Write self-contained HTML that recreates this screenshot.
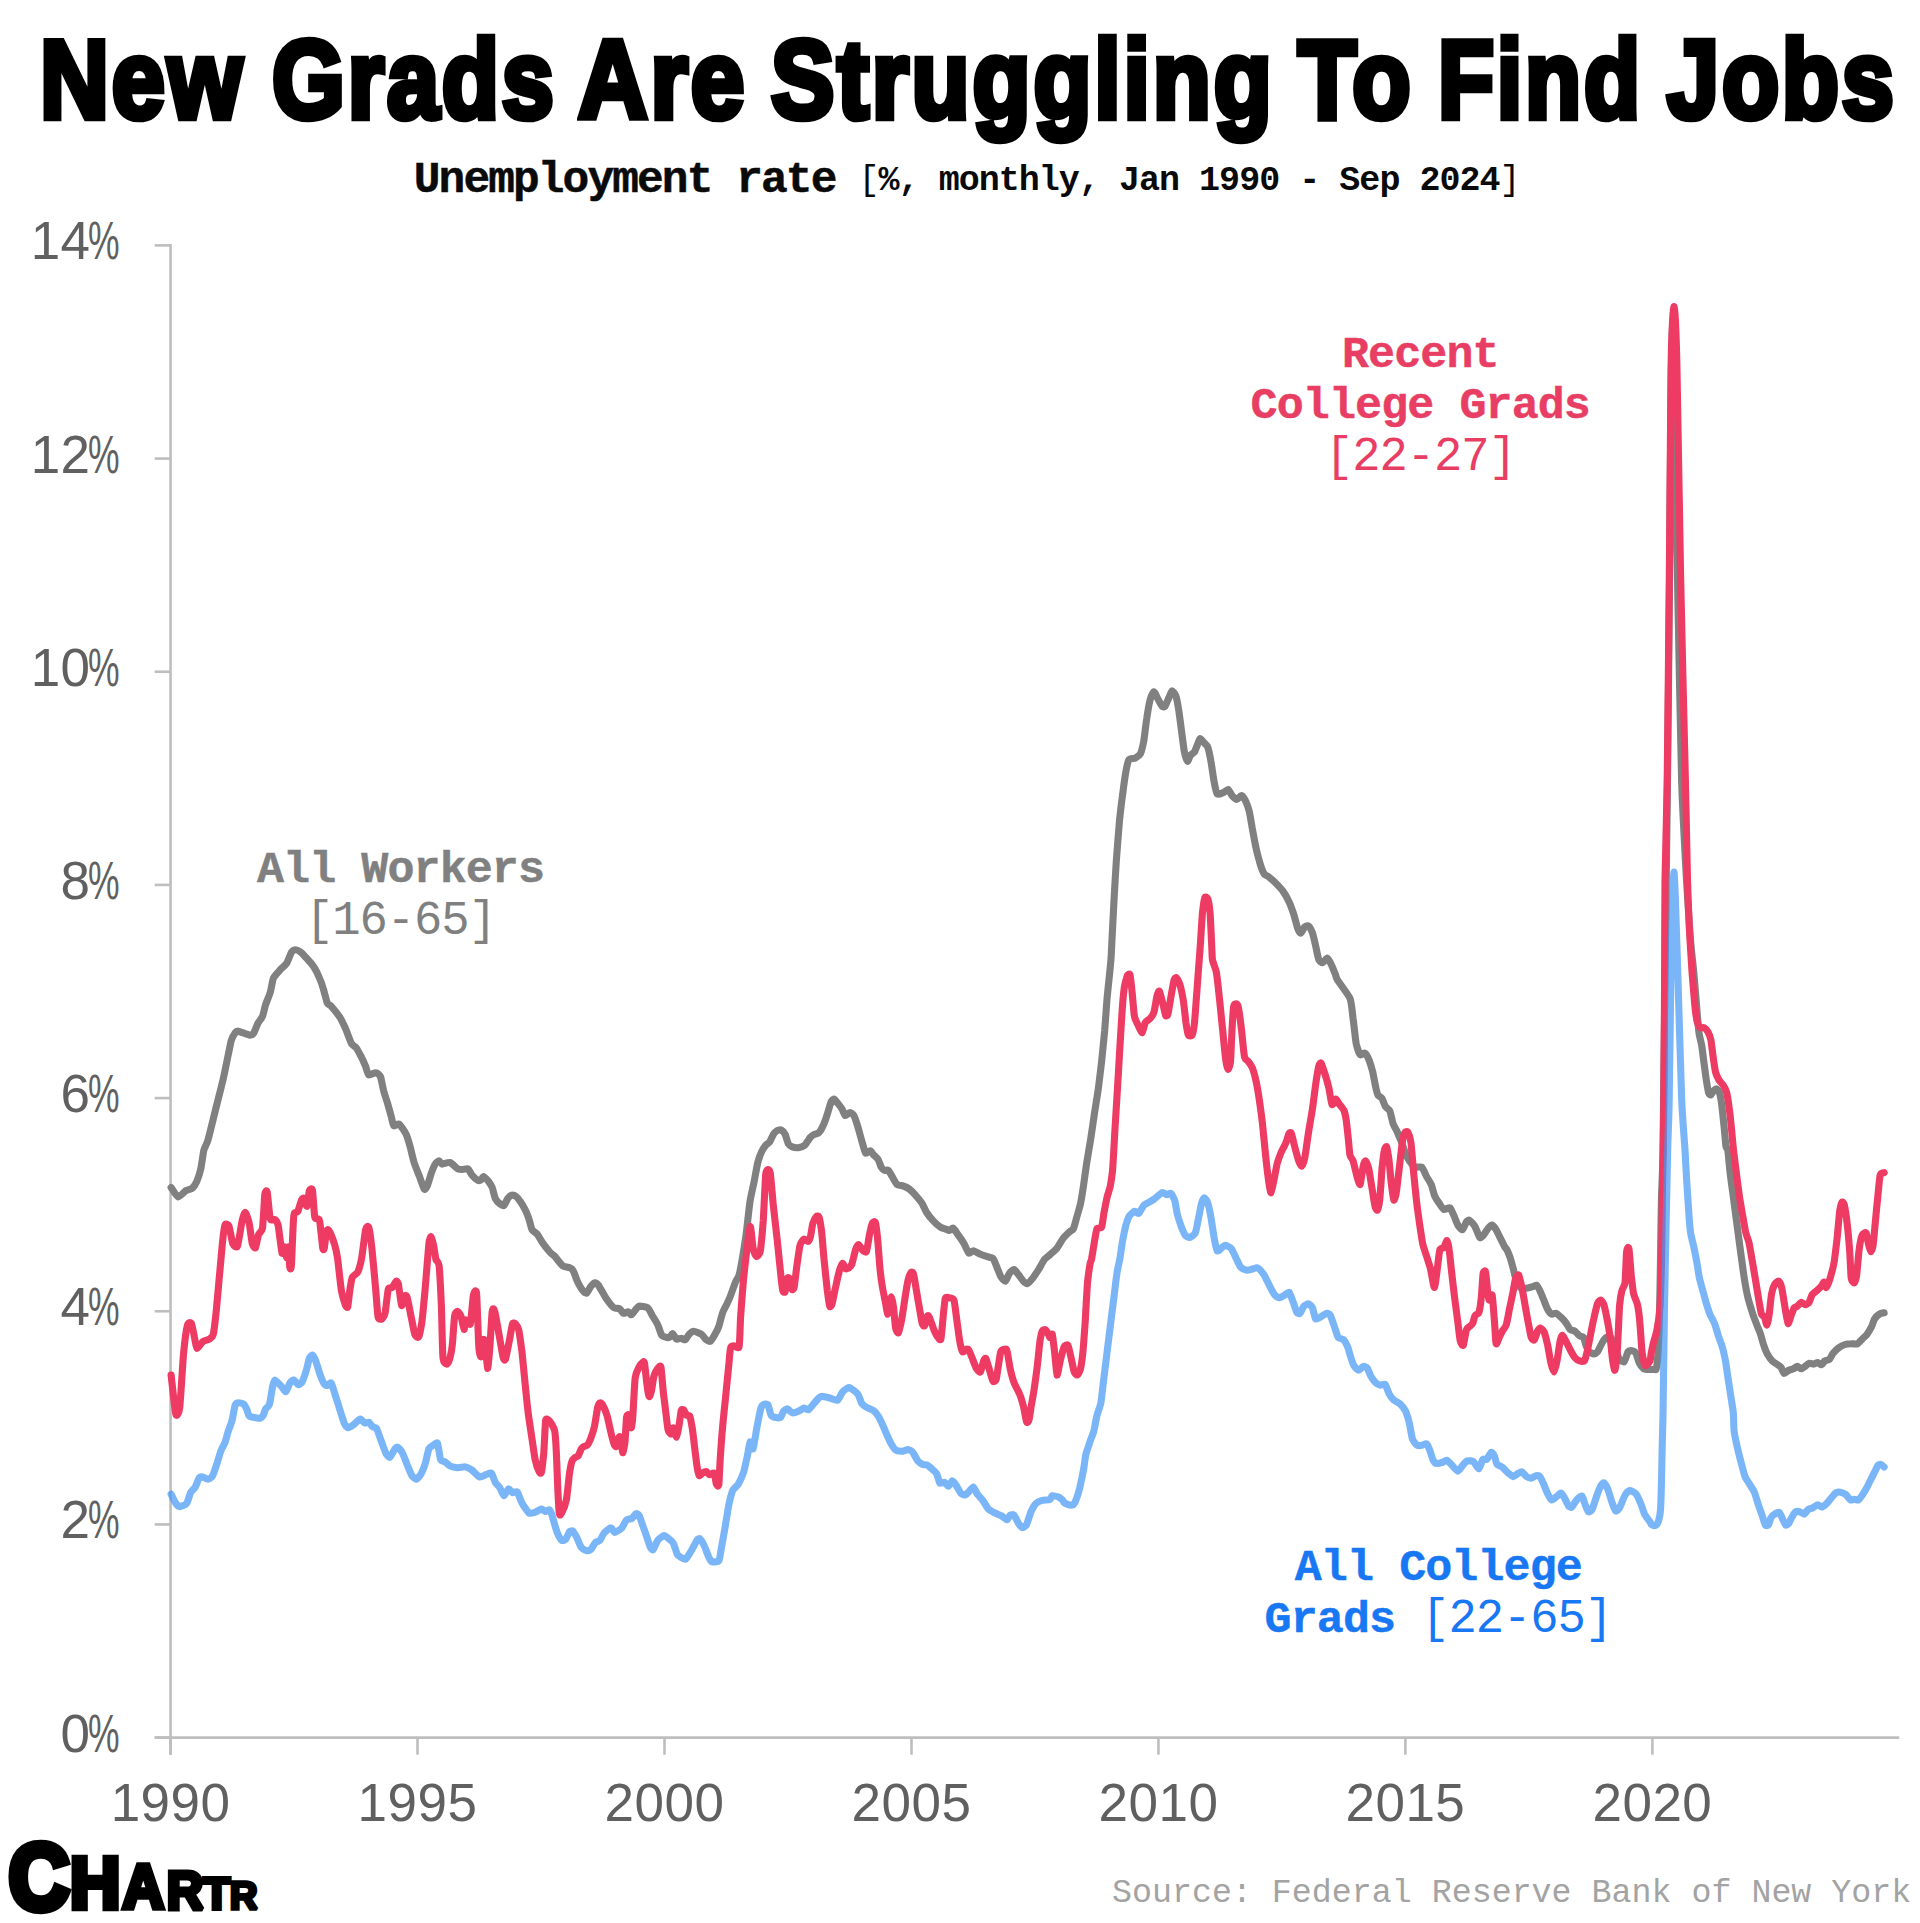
<!DOCTYPE html>
<html><head><meta charset="utf-8"><title>New Grads Are Struggling To Find Jobs</title>
<style>
html,body{margin:0;padding:0;background:#fff;}
body{width:1920px;height:1923px;position:relative;overflow:hidden;font-family:"Liberation Sans",sans-serif;}
.abs{position:absolute;white-space:pre;line-height:1;}
.tw{position:absolute;white-space:pre;line-height:1;font:bold 100px "Liberation Sans",sans-serif;color:#000;-webkit-text-stroke:6.0px #000;letter-spacing:3.0px;transform-origin:0 0;}
.mono{font-family:"Liberation Mono",monospace;}
.yl{position:absolute;left:0;width:90.6px;text-align:right;font:53px "Liberation Sans",sans-serif;line-height:53px;letter-spacing:0.5px;color:#606060;white-space:pre;}
.pc{position:absolute;left:88.2px;font:53px "Liberation Sans",sans-serif;line-height:53px;color:#606060;transform:scaleX(0.67);transform-origin:0 50%;}
.xl{position:absolute;top:1775.5px;width:200px;text-align:center;font:53px "Liberation Sans",sans-serif;line-height:53px;letter-spacing:0.5px;color:#606060;}
.lab{position:absolute;text-align:center;font:bold 45px "Liberation Mono",monospace;letter-spacing:-0.9px;line-height:50.8px;white-space:pre;}
.lab{-webkit-text-stroke:0.45px currentColor;}
.lab .lt{-webkit-text-stroke:0;font-weight:normal;font-size:47.2px;letter-spacing:-1.07px;}
svg{position:absolute;left:0;top:0;}
</style></head><body>
<h1 style="margin:0;font-size:0"><span class="tw" style="left:39.93px;top:14.67px;transform:scale(0.9538,1.1167)">New</span><span class="tw" style="left:271.56px;top:14.67px;transform:scale(0.9365,1.1167)">Grads</span><span class="tw" style="left:577.96px;top:14.67px;transform:scale(0.9626,1.1167)">Are</span><span class="tw" style="left:770.95px;top:14.67px;transform:scale(0.9504,1.1167)">Struggling</span><span class="tw" style="left:1298.16px;top:14.67px;transform:scale(0.9559,1.1167)">To</span><span class="tw" style="left:1438.33px;top:14.67px;transform:scale(0.9178,1.1167)">Find</span><span class="tw" style="left:1666.87px;top:14.67px;transform:scale(0.9362,1.1167)">Jobs</span></h1>
<div id="sub" class="abs mono" style="left:413.8px;top:158px;font-weight:bold;font-size:44.5px;letter-spacing:-1.9px;color:#0a0a0a;-webkit-text-stroke:0.5px #0a0a0a;">Unemployment rate</div>
<div id="sub2" class="abs mono" style="left:858.5px;top:164.3px;font-weight:bold;font-size:35px;letter-spacing:-0.97px;color:#0a0a0a;"><span style="font-weight:normal">[</span>%, monthly, Jan 1990 - Sep 2024<span style="font-weight:normal">]</span></div>
<svg width="1920" height="1923" viewBox="0 0 1920 1923">
<g stroke="#bebebe" stroke-width="2.6" fill="none">
<line x1="170.55" y1="244.10" x2="170.55" y2="1754.7"/>
<line x1="154.7" y1="1737.6" x2="1899.3" y2="1737.6"/>
<line x1="154.7" y1="1737.60" x2="171" y2="1737.60"/><line x1="154.7" y1="1524.43" x2="171" y2="1524.43"/><line x1="154.7" y1="1311.26" x2="171" y2="1311.26"/><line x1="154.7" y1="1098.08" x2="171" y2="1098.08"/><line x1="154.7" y1="884.91" x2="171" y2="884.91"/><line x1="154.7" y1="671.74" x2="171" y2="671.74"/><line x1="154.7" y1="458.57" x2="171" y2="458.57"/><line x1="154.7" y1="245.40" x2="171" y2="245.40"/><line x1="170.55" y1="1737" x2="170.55" y2="1754.7"/><line x1="417.50" y1="1737" x2="417.50" y2="1754.7"/><line x1="664.50" y1="1737" x2="664.50" y2="1754.7"/><line x1="911.50" y1="1737" x2="911.50" y2="1754.7"/><line x1="1158.45" y1="1737" x2="1158.45" y2="1754.7"/><line x1="1405.40" y1="1737" x2="1405.40" y2="1754.7"/><line x1="1652.40" y1="1737" x2="1652.40" y2="1754.7"/>
</g>
<g fill="none" stroke-width="7.1" stroke-linejoin="round" stroke-linecap="round">
<path id="pg" stroke="#808080" d="M171.1,1187.5C171.8,1188.4 176.6,1196.6 178.1,1196.9C179.6,1197.2 184.5,1191.5 185.9,1190.6C187.3,1189.8 191.1,1189.2 192.2,1188.3C193.3,1187.3 196.0,1183.2 196.9,1181.2C197.7,1179.3 200.1,1171.9 200.8,1168.8C201.5,1165.6 203.2,1152.8 203.9,1150.0C204.6,1147.2 206.6,1144.7 207.8,1140.6C209.0,1136.6 214.1,1115.6 215.6,1109.4C217.2,1103.1 221.9,1085.0 223.4,1078.1C225.0,1071.2 230.1,1045.2 231.2,1040.6C232.4,1036.1 234.5,1033.8 235.2,1032.8C235.9,1031.9 236.8,1031.0 238.3,1031.2C239.8,1031.5 248.4,1035.0 250.0,1035.2C251.6,1035.3 253.1,1034.0 253.9,1032.8C254.7,1031.6 257.0,1025.1 257.8,1023.4C258.7,1021.8 261.7,1018.3 262.5,1016.4C263.3,1014.5 264.8,1007.1 265.6,1004.7C266.4,1002.3 269.5,994.8 270.3,992.2C271.1,989.5 272.5,980.3 273.4,978.1C274.4,975.9 278.4,971.8 279.7,970.3C281.0,968.8 285.5,965.1 286.7,963.3C287.9,961.5 290.5,953.7 291.4,952.3C292.3,951.0 294.5,949.8 295.3,949.7C296.2,949.6 298.9,950.8 300.0,951.6C301.1,952.4 304.8,956.2 306.2,957.8C307.7,959.4 312.7,965.2 314.1,967.2C315.4,969.2 318.6,975.9 319.5,978.1C320.5,980.3 322.7,986.6 323.4,989.1C324.2,991.6 326.6,1001.4 327.3,1003.1C328.1,1004.8 330.0,1004.8 331.2,1006.2C332.5,1007.7 338.4,1015.0 339.8,1017.2C341.2,1019.4 344.1,1025.5 345.3,1028.1C346.5,1030.8 350.5,1041.8 351.6,1043.8C352.7,1045.7 355.3,1046.4 356.2,1047.7C357.2,1048.9 360.0,1054.4 360.9,1056.2C361.9,1058.1 364.8,1064.5 365.6,1066.4C366.4,1068.3 367.7,1074.4 368.8,1075.0C369.8,1075.6 374.6,1072.5 375.8,1072.7C377.0,1072.8 379.7,1074.8 380.5,1076.6C381.2,1078.4 382.9,1088.0 383.6,1090.6C384.3,1093.3 386.7,1100.5 387.5,1103.1C388.3,1105.8 390.8,1114.9 391.4,1117.2C392.0,1119.5 393.0,1125.1 393.8,1125.8C394.5,1126.5 398.0,1123.4 399.2,1124.2C400.5,1125.1 405.2,1132.1 406.2,1134.4C407.3,1136.6 409.4,1144.1 410.2,1146.9C410.9,1149.7 413.1,1159.5 414.1,1162.5C415.0,1165.5 418.5,1173.9 419.5,1176.6C420.5,1179.2 423.4,1188.1 424.2,1189.1C425.0,1190.0 426.6,1187.5 427.3,1185.9C428.0,1184.4 430.5,1175.6 431.2,1173.4C432.0,1171.2 434.4,1165.3 435.2,1164.1C435.9,1162.8 438.4,1160.9 439.1,1160.9C439.8,1160.9 441.1,1163.9 442.2,1164.1C443.3,1164.2 448.4,1162.0 450.0,1162.5C451.6,1163.0 456.6,1168.0 457.8,1168.8C459.1,1169.5 461.5,1169.5 462.5,1169.5C463.5,1169.5 467.0,1168.2 468.0,1168.8C468.9,1169.3 470.9,1173.8 471.9,1175.0C472.9,1176.2 477.2,1180.0 478.1,1180.5C479.1,1180.9 480.7,1180.1 481.2,1179.7C481.8,1179.3 482.9,1176.4 483.6,1176.6C484.3,1176.7 487.4,1180.2 488.3,1181.2C489.1,1182.3 491.5,1185.8 492.2,1187.5C492.9,1189.2 494.5,1196.8 495.3,1198.4C496.1,1200.1 499.1,1203.2 500.0,1203.9C500.9,1204.6 503.1,1206.0 503.9,1205.5C504.7,1204.9 507.0,1199.5 507.8,1198.4C508.6,1197.4 510.9,1195.5 511.7,1195.3C512.5,1195.1 514.8,1195.5 515.6,1196.1C516.5,1196.7 519.4,1200.2 520.3,1201.6C521.2,1202.9 524.1,1207.7 525.0,1209.4C525.9,1211.1 528.2,1216.7 528.9,1218.8C529.6,1220.8 531.2,1228.1 532.0,1229.7C532.9,1231.2 536.5,1233.1 537.5,1234.4C538.5,1235.6 540.9,1240.4 542.2,1242.2C543.4,1244.0 548.8,1250.9 550.0,1252.3C551.2,1253.8 553.4,1254.9 554.7,1256.2C555.9,1257.6 560.9,1264.5 562.5,1265.6C564.1,1266.8 569.2,1267.4 570.3,1268.0C571.4,1268.5 572.7,1269.8 573.4,1271.1C574.1,1272.4 576.4,1279.3 577.3,1281.2C578.3,1283.2 581.9,1289.5 582.8,1290.6C583.8,1291.8 585.9,1293.4 586.7,1293.0C587.5,1292.6 589.8,1287.7 590.6,1286.7C591.4,1285.7 593.8,1283.0 594.5,1282.8C595.3,1282.7 597.3,1283.6 598.4,1285.2C599.6,1286.7 604.7,1296.2 606.2,1298.4C607.8,1300.7 612.7,1306.8 614.1,1307.8C615.4,1308.8 618.6,1308.0 619.5,1308.6C620.5,1309.1 622.6,1313.0 623.4,1313.3C624.3,1313.6 627.3,1311.6 628.1,1311.7C628.9,1311.9 630.5,1315.0 631.2,1314.8C632.0,1314.7 634.4,1311.0 635.2,1310.2C635.9,1309.3 637.8,1306.5 639.1,1306.2C640.3,1306.0 646.3,1306.9 647.7,1307.8C649.0,1308.8 651.3,1313.9 652.3,1315.6C653.4,1317.3 656.9,1323.0 657.8,1325.0C658.8,1327.0 660.8,1333.9 661.7,1335.2C662.7,1336.4 666.3,1337.3 667.2,1337.5C668.0,1337.7 669.8,1337.1 670.3,1336.7C670.9,1336.3 672.0,1333.4 672.7,1333.6C673.3,1333.8 675.7,1338.6 676.6,1339.1C677.4,1339.5 680.4,1338.2 681.2,1338.3C682.1,1338.4 684.4,1340.2 685.2,1339.8C685.9,1339.5 688.2,1335.2 689.1,1334.4C689.9,1333.5 692.5,1331.2 693.8,1331.2C695.0,1331.2 700.3,1333.5 701.6,1334.4C702.8,1335.2 705.4,1339.1 706.2,1339.8C707.1,1340.5 709.4,1341.8 710.2,1341.4C710.9,1341.0 713.2,1337.4 714.1,1335.9C714.9,1334.5 717.9,1328.9 718.8,1326.6C719.6,1324.2 721.8,1314.8 722.7,1312.5C723.5,1310.2 726.5,1305.0 727.3,1303.1C728.2,1301.2 730.5,1295.8 731.2,1293.8C732.0,1291.7 734.4,1284.7 735.2,1282.8C735.9,1280.9 738.4,1277.3 739.1,1275.0C739.8,1272.7 741.5,1263.4 742.2,1259.4C742.9,1255.3 745.3,1240.2 746.1,1234.4C746.9,1228.6 749.2,1206.7 750.0,1201.6C750.8,1196.4 753.1,1186.7 753.9,1182.8C754.7,1178.9 757.0,1165.6 757.8,1162.5C758.6,1159.4 760.9,1153.3 761.7,1151.6C762.5,1149.8 764.8,1146.2 765.6,1145.3C766.4,1144.4 768.8,1143.3 769.5,1142.2C770.3,1141.1 772.7,1135.5 773.4,1134.4C774.2,1133.2 776.6,1130.9 777.3,1130.5C778.1,1130.0 780.5,1129.6 781.2,1130.0C782.0,1130.4 784.5,1133.0 785.2,1134.4C785.9,1135.8 787.6,1142.5 788.3,1143.8C789.0,1145.0 791.2,1146.5 792.2,1146.9C793.2,1147.3 797.2,1147.8 798.4,1147.7C799.7,1147.5 803.5,1146.3 804.7,1145.3C805.9,1144.3 809.2,1138.6 810.2,1137.5C811.1,1136.4 813.2,1134.8 814.1,1134.4C814.9,1133.9 817.8,1133.8 818.8,1132.8C819.7,1131.9 822.6,1126.9 823.4,1125.0C824.3,1123.1 826.6,1116.4 827.3,1114.1C828.1,1111.7 830.5,1103.0 831.2,1101.6C832.0,1100.1 833.7,1099.0 834.4,1099.2C835.1,1099.5 837.5,1102.9 838.3,1103.9C839.1,1104.9 841.5,1108.2 842.2,1109.4C842.9,1110.5 844.5,1115.3 845.3,1115.6C846.1,1115.9 849.1,1112.5 850.0,1112.5C850.9,1112.5 853.1,1114.2 853.9,1115.6C854.7,1117.0 857.0,1124.1 857.8,1126.6C858.6,1129.1 860.9,1138.0 861.7,1140.6C862.5,1143.3 864.8,1152.1 865.6,1153.1C866.5,1154.1 869.5,1150.6 870.3,1150.8C871.1,1150.9 872.7,1153.8 873.4,1154.7C874.2,1155.5 877.3,1158.1 878.1,1159.4C878.9,1160.6 880.6,1166.1 881.2,1167.2C881.9,1168.3 883.7,1170.0 884.4,1170.3C885.1,1170.6 887.5,1169.7 888.3,1170.3C889.1,1170.9 891.3,1175.2 892.2,1176.6C893.0,1178.0 895.8,1183.4 896.9,1184.4C898.0,1185.3 901.9,1185.5 903.1,1185.9C904.4,1186.4 908.1,1188.1 909.4,1189.1C910.6,1190.0 914.4,1193.9 915.6,1195.3C916.9,1196.7 920.8,1201.4 921.9,1203.1C923.0,1204.8 925.5,1210.8 926.6,1212.5C927.7,1214.2 931.4,1218.8 932.8,1220.3C934.2,1221.8 939.4,1226.5 940.6,1227.3C941.9,1228.2 944.5,1228.6 945.3,1228.9C946.2,1229.2 948.4,1230.5 949.2,1230.5C950.0,1230.4 952.3,1227.7 953.1,1228.1C954.0,1228.5 956.7,1232.8 957.8,1234.4C958.9,1235.9 963.0,1241.9 964.1,1243.8C965.2,1245.6 967.8,1252.4 968.8,1253.1C969.7,1253.8 972.3,1250.7 973.4,1250.8C974.5,1250.9 978.4,1253.4 979.7,1253.9C980.9,1254.5 984.6,1255.8 985.9,1256.2C987.3,1256.7 991.9,1257.5 993.0,1258.6C994.1,1259.7 996.1,1265.4 996.9,1267.2C997.7,1269.0 999.9,1275.2 1000.8,1276.6C1001.6,1278.0 1004.6,1281.6 1005.5,1281.2C1006.3,1280.9 1008.5,1274.6 1009.4,1273.4C1010.2,1272.3 1013.1,1269.4 1014.1,1269.5C1015.0,1269.7 1017.8,1273.8 1018.8,1275.0C1019.7,1276.2 1022.6,1280.4 1023.4,1281.2C1024.3,1282.1 1026.4,1283.9 1027.3,1283.6C1028.3,1283.3 1031.6,1279.6 1032.8,1278.1C1034.0,1276.6 1037.9,1270.6 1039.1,1268.8C1040.2,1266.9 1043.4,1260.8 1044.5,1259.4C1045.6,1258.0 1048.8,1255.7 1050.0,1254.7C1051.2,1253.7 1054.9,1250.7 1056.2,1249.1C1057.6,1247.4 1062.0,1239.8 1063.3,1238.1C1064.6,1236.4 1068.5,1232.8 1069.5,1231.9C1070.5,1230.9 1072.7,1230.2 1073.4,1228.8C1074.1,1227.3 1075.9,1220.3 1076.6,1217.8C1077.3,1215.3 1079.8,1207.0 1080.5,1203.8C1081.2,1200.5 1083.0,1189.1 1083.6,1185.0C1084.2,1180.9 1086.0,1167.7 1086.7,1163.1C1087.4,1158.6 1089.8,1144.7 1090.6,1139.7C1091.4,1134.7 1093.8,1118.3 1094.5,1113.1C1095.3,1108.0 1097.7,1093.3 1098.4,1088.1C1099.1,1083.0 1100.9,1067.3 1101.6,1061.6C1102.2,1055.8 1104.1,1036.6 1104.7,1030.3C1105.2,1024.1 1106.6,1004.5 1107.0,999.1C1107.5,993.6 1109.0,979.5 1109.4,975.6C1109.8,971.7 1110.7,963.0 1110.9,960.0C1111.2,957.0 1111.4,951.8 1111.7,945.6C1112.0,939.5 1113.6,907.3 1114.1,898.8C1114.5,890.2 1115.9,867.5 1116.4,859.7C1117.0,851.9 1118.9,827.2 1119.5,820.6C1120.2,814.1 1122.0,798.9 1122.7,794.1C1123.3,789.2 1125.2,775.6 1125.8,772.2C1126.4,768.8 1128.0,761.1 1128.9,759.7C1129.8,758.3 1134.0,758.8 1135.2,758.1C1136.3,757.5 1139.8,755.2 1140.6,753.4C1141.5,751.7 1143.1,744.5 1143.8,740.9C1144.4,737.3 1146.2,721.6 1146.9,717.5C1147.5,713.4 1149.3,702.9 1150.0,700.3C1150.7,697.7 1153.1,691.9 1153.9,691.7C1154.7,691.6 1157.0,697.3 1157.8,698.8C1158.6,700.2 1161.0,705.0 1161.7,705.8C1162.4,706.6 1164.1,707.3 1164.8,706.6C1165.5,705.8 1168.0,699.5 1168.8,698.0C1169.5,696.4 1171.2,691.2 1171.9,690.9C1172.6,690.7 1175.1,693.6 1175.8,695.6C1176.5,697.7 1178.3,707.3 1178.9,711.2C1179.5,715.2 1181.5,730.6 1182.0,734.7C1182.6,738.8 1183.8,749.2 1184.4,751.9C1184.9,754.5 1186.9,760.9 1187.5,761.2C1188.1,761.6 1189.9,755.9 1190.6,755.0C1191.3,754.1 1193.8,753.0 1194.5,751.9C1195.2,750.8 1197.1,745.4 1197.7,744.1C1198.2,742.7 1199.4,738.8 1200.0,738.6C1200.6,738.4 1203.1,741.6 1203.9,742.5C1204.7,743.4 1207.1,745.3 1207.8,747.2C1208.5,749.1 1210.3,757.8 1210.9,761.2C1211.6,764.7 1213.4,778.3 1214.1,781.6C1214.7,784.8 1216.2,793.0 1217.2,794.1C1218.1,795.2 1222.3,793.0 1223.4,792.5C1224.5,792.0 1227.3,789.1 1228.1,789.4C1229.0,789.7 1231.2,794.6 1232.0,795.6C1232.9,796.6 1235.8,799.5 1236.7,799.5C1237.7,799.5 1240.5,795.5 1241.4,795.6C1242.3,795.7 1244.5,798.8 1245.3,800.3C1246.1,801.9 1248.5,808.4 1249.2,811.2C1249.9,814.1 1251.7,825.0 1252.3,828.4C1253.0,831.9 1254.8,842.3 1255.5,845.6C1256.2,848.9 1258.5,858.4 1259.4,861.2C1260.2,864.1 1263.1,872.2 1264.1,873.8C1265.0,875.3 1267.7,876.0 1268.8,876.9C1269.8,877.7 1273.6,880.9 1275.0,882.3C1276.4,883.8 1281.4,889.0 1282.8,890.9C1284.2,892.9 1288.0,899.5 1289.1,901.9C1290.2,904.2 1292.9,911.7 1293.8,914.4C1294.6,917.0 1297.0,926.6 1297.7,928.4C1298.4,930.3 1300.1,933.3 1300.8,933.1C1301.5,933.0 1303.9,927.6 1304.7,926.9C1305.5,926.2 1307.8,925.5 1308.6,926.1C1309.4,926.7 1311.8,931.2 1312.5,933.1C1313.2,935.1 1315.0,943.0 1315.6,945.6C1316.2,948.3 1318.0,958.0 1318.8,959.7C1319.5,961.4 1321.8,963.0 1322.7,962.8C1323.5,962.7 1326.5,958.0 1327.3,958.1C1328.2,958.3 1330.5,962.8 1331.2,964.4C1332.0,965.9 1334.5,972.2 1335.2,973.8C1335.8,975.3 1336.0,977.5 1337.5,980.0C1339.0,982.5 1348.4,994.6 1350.0,998.4C1351.6,1002.3 1352.5,1014.2 1353.1,1018.8C1353.8,1023.3 1355.5,1040.2 1356.2,1043.8C1357.0,1047.3 1359.3,1053.8 1360.2,1054.7C1361.0,1055.6 1364.0,1052.7 1364.8,1053.1C1365.7,1053.6 1368.0,1057.5 1368.8,1059.4C1369.5,1061.2 1372.0,1069.1 1372.7,1071.9C1373.4,1074.7 1375.2,1085.2 1375.8,1087.5C1376.3,1089.8 1377.5,1094.2 1378.1,1095.3C1378.8,1096.4 1381.3,1097.3 1382.0,1098.4C1382.7,1099.5 1384.4,1105.0 1385.2,1106.2C1385.9,1107.5 1389.1,1109.2 1389.8,1110.9C1390.6,1112.7 1392.3,1121.4 1393.0,1123.4C1393.7,1125.5 1396.0,1129.4 1396.9,1131.2C1397.7,1133.1 1400.7,1140.0 1401.6,1142.2C1402.4,1144.4 1404.7,1151.2 1405.5,1153.1C1406.2,1155.0 1408.4,1159.5 1409.4,1160.9C1410.4,1162.3 1414.4,1166.6 1415.6,1167.2C1416.9,1167.8 1420.8,1166.2 1421.9,1167.2C1423.0,1168.1 1425.6,1174.8 1426.6,1176.6C1427.5,1178.3 1430.5,1182.5 1431.2,1184.4C1432.0,1186.2 1433.6,1193.4 1434.4,1195.3C1435.2,1197.2 1438.1,1201.7 1439.1,1203.1C1440.0,1204.5 1442.7,1208.9 1443.8,1209.4C1444.8,1209.8 1449.0,1207.2 1450.0,1207.8C1451.0,1208.4 1453.1,1213.9 1453.9,1215.6C1454.7,1217.3 1457.0,1223.6 1457.8,1225.0C1458.7,1226.4 1461.6,1230.0 1462.5,1229.7C1463.4,1229.4 1465.7,1222.8 1466.4,1221.9C1467.1,1220.9 1468.7,1219.8 1469.5,1220.3C1470.4,1220.8 1474.0,1224.8 1475.0,1226.6C1476.0,1228.3 1478.9,1236.6 1479.7,1237.5C1480.5,1238.4 1482.0,1236.9 1482.8,1235.9C1483.7,1235.0 1487.3,1229.2 1488.3,1228.1C1489.2,1227.0 1491.4,1224.8 1492.2,1225.0C1493.0,1225.2 1495.3,1228.4 1496.1,1229.7C1496.9,1230.9 1499.1,1235.8 1500.0,1237.5C1500.9,1239.2 1504.0,1245.6 1504.7,1246.9C1505.4,1248.1 1506.5,1248.9 1507.0,1250.0C1507.6,1251.1 1509.5,1255.9 1510.2,1257.8C1510.8,1259.7 1512.7,1266.7 1513.3,1268.8C1513.8,1270.8 1514.9,1276.2 1515.6,1278.1C1516.3,1280.0 1519.2,1286.5 1520.3,1287.5C1521.4,1288.5 1525.3,1288.4 1526.6,1288.3C1527.8,1288.2 1531.8,1287.0 1532.8,1286.7C1533.8,1286.4 1536.0,1284.8 1536.7,1285.2C1537.4,1285.5 1539.1,1289.1 1539.8,1290.6C1540.5,1292.1 1543.0,1298.1 1543.8,1300.0C1544.5,1301.9 1546.9,1308.0 1547.7,1309.4C1548.4,1310.8 1550.7,1313.7 1551.6,1314.1C1552.4,1314.5 1555.3,1313.0 1556.2,1313.3C1557.2,1313.6 1559.9,1316.2 1560.9,1317.2C1562.0,1318.2 1565.5,1322.2 1566.4,1323.4C1567.3,1324.7 1569.5,1328.9 1570.3,1329.7C1571.2,1330.5 1574.1,1330.6 1575.0,1331.2C1575.9,1331.9 1578.8,1335.3 1579.7,1335.9C1580.5,1336.6 1583.0,1336.6 1583.6,1337.5C1584.2,1338.4 1585.4,1343.9 1585.9,1345.3C1586.5,1346.7 1588.3,1350.7 1589.1,1351.6C1589.8,1352.4 1592.9,1353.9 1593.8,1353.9C1594.6,1353.9 1596.9,1352.6 1597.7,1351.6C1598.4,1350.5 1600.7,1345.2 1601.6,1343.8C1602.4,1342.3 1605.3,1338.1 1606.2,1337.5C1607.2,1336.9 1610.0,1336.2 1610.9,1337.5C1611.9,1338.8 1614.8,1347.8 1615.6,1350.0C1616.5,1352.2 1618.7,1358.2 1619.5,1359.4C1620.4,1360.5 1623.4,1362.5 1624.2,1361.7C1625.1,1360.9 1627.3,1352.7 1628.1,1351.6C1628.9,1350.5 1631.2,1350.6 1632.0,1350.8C1632.8,1350.9 1635.2,1352.0 1635.9,1353.1C1636.6,1354.3 1638.3,1360.9 1639.1,1362.5C1639.8,1364.1 1642.7,1368.0 1643.8,1368.8C1644.8,1369.5 1649.0,1369.5 1650.0,1369.5C1651.0,1369.6 1653.0,1369.3 1653.6,1369.2C1654.2,1369.1 1655.8,1370.4 1656.2,1368.8C1656.7,1367.1 1657.7,1357.8 1658.0,1353.1C1658.3,1348.4 1659.1,1331.3 1659.4,1321.9C1659.6,1312.5 1660.3,1271.5 1660.5,1259.0C1660.7,1246.5 1661.2,1207.9 1661.5,1197.0C1661.8,1186.1 1662.7,1171.7 1663.0,1150.0C1663.3,1128.3 1664.5,1017.0 1665.0,980.0C1665.5,943.0 1667.0,820.0 1667.5,780.0C1668.0,740.0 1669.2,618.0 1669.5,580.0C1669.8,542.0 1670.7,425.4 1671.0,400.0C1671.3,374.6 1672.2,326.0 1672.5,326.0C1672.8,326.0 1673.5,374.6 1674.0,400.0C1674.5,425.4 1676.7,542.0 1677.5,580.0C1678.3,618.0 1680.7,750.0 1681.6,780.0C1682.5,810.0 1685.6,864.0 1686.5,880.0C1687.4,896.0 1689.8,930.9 1690.5,940.0C1691.2,949.1 1693.1,964.9 1693.7,971.5C1694.3,978.1 1696.1,999.8 1696.6,1005.9C1697.1,1012.0 1698.4,1028.2 1698.9,1032.2C1699.4,1036.2 1701.3,1042.8 1701.8,1045.9C1702.3,1049.0 1703.5,1059.6 1704.0,1063.0C1704.5,1066.4 1705.8,1077.0 1706.3,1080.0C1706.8,1083.0 1708.1,1091.3 1708.6,1092.8C1709.1,1094.3 1710.4,1095.2 1710.9,1095.0C1711.4,1094.8 1713.2,1091.1 1713.8,1090.5C1714.4,1089.9 1716.0,1088.6 1716.6,1088.8C1717.2,1089.0 1719.0,1091.4 1719.5,1092.8C1720.0,1094.2 1721.0,1099.7 1721.5,1103.0C1722.0,1106.3 1723.5,1121.4 1724.0,1125.8C1724.5,1130.2 1725.6,1144.3 1726.0,1146.7C1726.4,1149.1 1727.4,1147.3 1727.8,1150.0C1728.2,1152.7 1729.6,1168.8 1730.2,1173.4C1730.7,1178.1 1732.7,1192.2 1733.3,1196.9C1733.9,1201.6 1735.8,1215.6 1736.4,1220.3C1737.0,1225.0 1738.9,1239.1 1739.5,1243.8C1740.2,1248.4 1742.1,1263.3 1742.7,1267.2C1743.2,1271.1 1744.5,1279.7 1745.0,1282.8C1745.5,1285.9 1747.3,1295.3 1748.1,1298.4C1748.9,1301.6 1751.9,1311.2 1752.8,1314.1C1753.8,1316.9 1756.7,1324.5 1757.5,1326.6C1758.3,1328.6 1760.0,1332.5 1760.6,1334.4C1761.2,1336.2 1763.0,1343.3 1763.8,1345.3C1764.5,1347.3 1766.8,1353.1 1767.7,1354.7C1768.5,1356.2 1771.3,1359.9 1772.3,1360.9C1773.4,1362.0 1777.0,1364.2 1777.8,1364.8C1778.7,1365.5 1780.3,1366.3 1780.9,1367.2C1781.6,1368.0 1783.3,1373.1 1784.1,1373.4C1784.8,1373.8 1787.8,1370.8 1788.8,1370.3C1789.7,1369.8 1792.6,1369.1 1793.4,1368.8C1794.3,1368.4 1796.6,1366.4 1797.3,1366.4C1798.1,1366.4 1800.5,1368.8 1801.2,1368.8C1802.0,1368.8 1804.4,1367.0 1805.2,1366.4C1805.9,1365.9 1808.2,1363.5 1809.1,1363.3C1809.9,1363.0 1812.9,1364.1 1813.8,1364.1C1814.6,1364.0 1816.9,1362.4 1817.7,1362.5C1818.4,1362.6 1820.9,1365.0 1821.6,1364.8C1822.3,1364.7 1823.9,1361.5 1824.7,1360.9C1825.5,1360.4 1828.5,1360.2 1829.4,1359.4C1830.2,1358.6 1832.3,1354.3 1833.3,1353.1C1834.2,1352.0 1837.6,1348.5 1838.8,1347.7C1839.9,1346.8 1843.8,1344.9 1845.0,1344.5C1846.2,1344.1 1850.0,1343.8 1851.2,1343.8C1852.5,1343.7 1856.4,1344.2 1857.5,1343.8C1858.6,1343.3 1861.2,1340.0 1862.2,1339.1C1863.1,1338.1 1865.9,1335.6 1866.9,1334.4C1867.8,1333.1 1870.8,1328.1 1871.6,1326.6C1872.3,1325.0 1873.9,1320.0 1874.7,1318.8C1875.5,1317.5 1878.4,1314.7 1879.4,1314.1C1880.3,1313.5 1883.6,1312.9 1884.1,1312.8"/>
<path id="pr" stroke="#ee3b63" d="M171.1,1375.0C171.6,1378.9 174.9,1410.8 175.8,1414.1C176.6,1417.3 178.9,1413.9 179.7,1407.8C180.5,1401.7 182.8,1361.4 183.6,1353.1C184.4,1344.8 186.7,1328.0 187.5,1325.0C188.3,1322.0 190.7,1322.2 191.4,1323.4C192.1,1324.7 194.0,1335.0 194.5,1337.5C195.1,1340.0 196.0,1348.0 196.9,1348.4C197.7,1348.8 201.9,1342.3 203.1,1341.4C204.4,1340.5 208.4,1339.8 209.4,1339.1C210.4,1338.4 212.6,1337.3 213.3,1334.4C214.0,1331.4 215.8,1315.3 216.4,1309.4C217.0,1303.4 218.9,1281.9 219.5,1275.0C220.2,1268.1 222.1,1245.6 222.7,1240.6C223.2,1235.6 224.4,1226.5 225.0,1225.0C225.6,1223.5 228.1,1223.9 228.9,1225.8C229.7,1227.7 232.0,1241.7 232.8,1243.8C233.7,1245.8 236.6,1248.4 237.5,1246.1C238.4,1243.8 241.4,1223.7 242.2,1220.3C243.0,1217.0 244.6,1212.2 245.3,1212.5C246.0,1212.8 248.5,1220.3 249.2,1223.4C249.9,1226.6 251.7,1241.3 252.3,1243.8C253.0,1246.2 254.8,1248.6 255.5,1247.7C256.1,1246.7 257.9,1236.3 258.6,1234.4C259.3,1232.4 261.9,1232.1 262.5,1228.1C263.1,1224.1 264.4,1198.1 264.8,1194.5C265.3,1190.9 266.6,1189.8 267.2,1192.2C267.7,1194.6 269.5,1216.0 270.3,1218.8C271.1,1221.5 274.2,1218.9 275.0,1219.5C275.8,1220.2 277.4,1221.6 278.1,1225.0C278.8,1228.4 281.4,1250.9 282.0,1253.1C282.7,1255.3 283.9,1246.4 284.4,1246.9C284.8,1247.3 286.3,1257.8 286.7,1257.8C287.1,1257.8 288.0,1245.9 288.3,1246.9C288.6,1247.8 289.5,1265.3 289.8,1267.2C290.2,1269.1 291.0,1270.8 291.4,1265.6C291.8,1260.5 293.1,1221.0 293.8,1215.6C294.4,1210.2 296.9,1213.3 297.7,1211.7C298.4,1210.2 300.9,1201.3 301.6,1200.0C302.2,1198.7 303.4,1197.8 303.9,1198.4C304.5,1199.1 306.5,1207.0 307.0,1206.2C307.6,1205.5 308.8,1192.2 309.4,1190.6C309.9,1189.0 312.0,1187.7 312.5,1190.3C313.0,1193.0 314.1,1214.2 314.8,1217.2C315.5,1220.2 318.8,1217.3 319.5,1220.3C320.3,1223.4 322.2,1244.8 322.7,1247.7C323.1,1250.5 323.8,1250.1 324.2,1248.4C324.6,1246.8 326.1,1233.0 326.6,1231.2C327.0,1229.5 328.1,1229.2 328.9,1230.5C329.7,1231.7 333.5,1241.0 334.4,1243.8C335.2,1246.5 336.8,1253.1 337.5,1257.8C338.2,1262.5 340.6,1285.9 341.4,1290.6C342.2,1295.3 344.7,1303.0 345.3,1304.7C345.9,1306.3 347.2,1308.6 347.7,1307.0C348.1,1305.5 349.5,1292.0 350.0,1289.1C350.5,1286.1 351.6,1279.1 352.3,1277.3C353.1,1275.6 356.9,1273.8 357.8,1271.9C358.8,1269.9 360.9,1262.0 361.7,1257.8C362.5,1253.6 364.9,1232.7 365.6,1229.7C366.3,1226.6 368.1,1225.5 368.8,1227.3C369.4,1229.2 371.2,1242.1 371.9,1248.4C372.6,1254.8 375.2,1283.8 375.8,1290.6C376.4,1297.5 377.5,1314.4 378.1,1317.2C378.8,1320.0 381.3,1319.2 382.0,1318.8C382.7,1318.3 384.5,1315.5 385.2,1312.5C385.8,1309.5 387.6,1291.6 388.3,1289.1C389.0,1286.6 391.4,1288.3 392.2,1287.5C393.0,1286.7 395.5,1281.6 396.1,1281.2C396.7,1280.9 397.9,1282.0 398.4,1284.4C399.0,1286.8 400.9,1304.3 401.6,1305.5C402.2,1306.6 404.1,1297.0 404.7,1296.1C405.2,1295.2 406.4,1294.9 407.0,1296.9C407.7,1298.8 410.2,1311.9 410.9,1315.6C411.7,1319.4 414.1,1332.3 414.8,1334.4C415.6,1336.5 418.0,1338.0 418.8,1336.7C419.5,1335.5 421.2,1326.5 421.9,1321.9C422.5,1317.3 424.3,1298.4 425.0,1290.6C425.7,1282.8 428.3,1249.1 428.9,1243.8C429.5,1238.4 430.8,1236.6 431.2,1236.7C431.7,1236.9 433.1,1243.0 433.6,1245.3C434.1,1247.6 435.4,1257.3 435.9,1259.4C436.5,1261.4 438.5,1260.9 439.1,1265.6C439.6,1270.3 441.0,1297.0 441.4,1306.2C441.8,1315.5 442.4,1352.0 443.0,1357.8C443.5,1363.6 446.2,1364.1 446.9,1364.1C447.6,1364.1 449.5,1359.7 450.0,1357.8C450.5,1355.9 451.9,1349.2 452.3,1345.0C452.8,1340.8 454.1,1318.7 454.7,1315.3C455.2,1312.0 457.2,1311.3 457.8,1311.4C458.4,1311.5 460.3,1314.3 460.9,1316.1C461.6,1317.9 463.6,1329.0 464.1,1329.4C464.5,1329.8 465.0,1320.5 465.6,1320.0C466.2,1319.5 469.5,1326.4 470.3,1323.9C471.1,1321.4 472.8,1298.0 473.4,1295.0C474.1,1292.0 476.0,1288.1 476.6,1293.4C477.1,1298.8 478.4,1341.8 478.9,1348.1C479.4,1354.5 480.9,1357.5 481.2,1356.7C481.6,1355.9 482.4,1341.8 482.8,1340.3C483.2,1338.8 484.7,1339.1 485.2,1341.9C485.6,1344.7 487.0,1367.8 487.5,1368.4C488.0,1369.1 489.4,1353.8 489.8,1348.1C490.3,1342.4 491.7,1315.2 492.2,1311.4C492.7,1307.7 493.9,1308.7 494.5,1310.6C495.2,1312.6 497.6,1326.2 498.4,1330.9C499.3,1335.6 502.4,1354.7 503.1,1357.5C503.8,1360.3 504.8,1360.8 505.5,1359.1C506.1,1357.3 508.7,1343.8 509.4,1340.3C510.1,1336.8 511.9,1325.5 512.5,1323.9C513.1,1322.3 515.0,1323.3 515.6,1323.9C516.2,1324.5 518.1,1327.4 518.8,1330.2C519.4,1332.9 521.2,1346.0 521.9,1351.2C522.5,1356.5 524.4,1376.4 525.0,1382.5C525.6,1388.6 527.4,1406.6 528.1,1412.2C528.8,1417.8 531.3,1434.0 532.0,1438.8C532.7,1443.5 534.5,1456.6 535.2,1459.8C535.9,1463.1 538.4,1470.3 539.1,1471.6C539.7,1472.8 540.9,1474.2 541.4,1472.3C541.9,1470.5 543.3,1458.0 543.8,1452.8C544.2,1447.7 545.2,1424.1 545.6,1420.8C546.1,1417.5 547.8,1419.7 548.4,1420.0C549.0,1420.3 550.9,1422.8 551.6,1423.9C552.2,1425.0 554.2,1428.4 554.7,1430.9C555.2,1433.5 555.9,1443.9 556.2,1449.7C556.6,1455.5 557.5,1482.3 557.8,1488.8C558.1,1495.2 559.0,1511.3 559.4,1513.8C559.8,1516.2 561.0,1514.4 561.7,1513.0C562.4,1511.6 565.6,1503.7 566.4,1499.7C567.2,1495.7 569.0,1477.0 569.5,1473.1C570.1,1469.3 571.3,1463.0 571.9,1461.4C572.4,1459.8 574.4,1458.0 575.0,1457.5C575.6,1457.0 577.5,1456.8 578.1,1455.9C578.8,1455.1 580.7,1449.8 581.2,1448.9C581.8,1448.0 583.0,1447.0 583.6,1446.6C584.2,1446.2 586.8,1445.8 587.5,1445.0C588.2,1444.2 589.9,1440.6 590.6,1438.8C591.3,1436.9 593.8,1429.4 594.5,1426.2C595.2,1423.1 597.1,1409.8 597.7,1407.5C598.2,1405.2 599.5,1403.1 600.0,1402.8C600.5,1402.5 601.6,1403.1 602.3,1404.4C603.0,1405.6 606.2,1412.5 607.0,1415.3C607.9,1418.1 610.2,1429.6 610.9,1432.5C611.6,1435.4 613.5,1442.8 614.1,1444.2C614.6,1445.6 615.9,1447.2 616.4,1446.6C616.9,1445.9 618.4,1438.9 618.8,1438.0C619.1,1437.0 619.9,1435.7 620.3,1437.2C620.7,1438.7 622.2,1452.3 622.7,1452.8C623.1,1453.3 624.6,1445.5 625.0,1441.9C625.4,1438.3 626.2,1419.5 626.6,1416.9C627.0,1414.2 628.4,1414.2 628.9,1415.3C629.4,1416.4 630.9,1427.7 631.2,1427.8C631.6,1428.0 632.4,1421.9 632.8,1416.9C633.2,1411.9 634.5,1382.8 635.2,1377.8C635.8,1372.8 638.3,1368.4 639.1,1366.9C639.8,1365.3 642.4,1362.6 643.0,1362.2C643.5,1361.8 644.1,1360.8 644.5,1363.0C644.9,1365.2 646.4,1380.7 646.9,1384.1C647.3,1387.4 648.8,1395.9 649.2,1396.6C649.7,1397.2 651.1,1392.3 651.6,1390.3C652.0,1388.3 653.3,1378.4 653.9,1376.2C654.5,1374.1 657.1,1369.4 657.8,1368.4C658.5,1367.5 660.4,1364.5 660.9,1366.9C661.5,1369.2 662.8,1387.5 663.3,1391.9C663.8,1396.2 665.2,1406.9 665.6,1410.6C666.1,1414.4 667.4,1427.0 668.0,1429.4C668.5,1431.7 670.5,1434.2 671.1,1434.1C671.6,1433.9 672.9,1427.5 673.4,1427.8C674.0,1428.1 676.0,1437.3 676.6,1437.2C677.1,1437.0 678.4,1428.9 678.9,1426.2C679.4,1423.6 680.8,1412.3 681.2,1410.6C681.7,1409.0 683.0,1409.4 683.6,1409.8C684.1,1410.3 686.1,1414.7 686.7,1415.3C687.3,1415.9 689.3,1414.8 689.8,1416.1C690.4,1417.3 691.7,1424.8 692.2,1427.8C692.7,1430.9 694.1,1442.8 694.5,1446.6C695.0,1450.3 696.4,1462.4 696.9,1465.3C697.3,1468.2 698.7,1474.7 699.2,1475.5C699.8,1476.2 701.6,1473.5 702.3,1473.1C703.0,1472.7 705.5,1471.4 706.2,1471.6C707.0,1471.7 708.6,1474.5 709.4,1474.7C710.2,1474.8 713.4,1472.2 714.1,1473.1C714.8,1474.1 715.9,1482.9 716.4,1484.1C716.9,1485.2 718.4,1487.5 718.8,1484.8C719.1,1482.2 719.9,1463.4 720.3,1457.5C720.7,1451.6 722.1,1432.5 722.7,1426.2C723.2,1420.0 725.2,1401.2 725.8,1395.0C726.4,1388.8 728.4,1368.4 728.9,1363.8C729.4,1359.1 730.0,1349.9 730.5,1348.1C730.9,1346.3 732.7,1345.9 733.6,1345.8C734.5,1345.6 738.4,1349.5 739.1,1346.6C739.8,1343.7 740.2,1323.0 740.6,1316.9C741.0,1310.8 742.6,1290.3 743.0,1285.6C743.4,1280.9 743.8,1275.9 744.5,1270.0C745.2,1264.1 749.1,1228.7 750.0,1226.6C750.9,1224.4 752.5,1245.5 753.1,1248.4C753.8,1251.4 755.5,1255.9 756.2,1256.2C757.0,1256.6 759.5,1255.2 760.2,1251.6C760.9,1248.0 762.7,1228.0 763.3,1220.3C763.8,1212.7 765.2,1180.1 765.6,1175.0C766.1,1169.9 767.5,1169.7 768.0,1169.5C768.4,1169.4 769.8,1169.8 770.3,1173.4C770.9,1177.1 772.7,1199.5 773.4,1206.2C774.1,1213.0 776.6,1234.1 777.3,1240.6C778.0,1247.2 779.9,1266.9 780.5,1271.9C781.0,1276.9 782.3,1288.7 782.8,1290.6C783.3,1292.6 784.7,1292.7 785.2,1291.4C785.6,1290.2 787.0,1279.4 787.5,1278.1C788.0,1276.9 789.4,1277.8 789.8,1278.9C790.3,1280.0 791.5,1288.2 791.9,1289.1C792.3,1289.9 793.6,1289.8 794.1,1287.5C794.6,1285.2 796.3,1269.8 796.9,1265.6C797.5,1261.4 799.3,1248.0 800.0,1245.3C800.7,1242.7 803.1,1239.5 803.9,1239.1C804.7,1238.7 807.5,1241.7 808.1,1241.4C808.8,1241.1 810.2,1237.7 810.6,1235.9C811.1,1234.1 812.2,1225.4 812.8,1223.4C813.4,1221.5 815.8,1217.0 816.4,1216.4C817.0,1215.8 818.5,1215.7 819.1,1217.2C819.6,1218.7 821.0,1226.9 821.6,1231.2C822.1,1235.6 823.6,1255.0 824.2,1260.9C824.8,1266.9 826.8,1286.1 827.3,1290.6C827.9,1295.2 829.2,1304.9 829.7,1306.2C830.2,1307.6 831.5,1305.6 832.0,1303.9C832.6,1302.2 834.5,1292.3 835.2,1289.1C835.9,1285.9 838.3,1274.5 839.1,1271.9C839.8,1269.3 841.8,1263.6 842.5,1263.3C843.2,1263.0 845.0,1268.3 845.6,1268.8C846.2,1269.2 848.1,1268.4 848.8,1268.0C849.4,1267.5 851.2,1265.9 851.9,1264.1C852.5,1262.3 854.8,1252.0 855.5,1250.0C856.1,1248.0 857.9,1244.5 858.6,1244.5C859.3,1244.5 861.7,1249.3 862.5,1250.0C863.3,1250.7 865.7,1253.1 866.4,1251.6C867.1,1250.0 869.0,1237.2 869.5,1234.4C870.1,1231.6 871.6,1224.7 872.2,1223.4C872.8,1222.2 874.8,1220.8 875.3,1222.2C875.8,1223.6 877.0,1232.8 877.5,1237.5C878.0,1242.2 879.5,1263.8 880.0,1268.8C880.5,1273.8 881.9,1284.1 882.5,1287.5C883.1,1290.9 885.1,1300.5 885.6,1303.1C886.1,1305.8 887.1,1313.8 887.5,1314.1C887.9,1314.4 889.5,1308.0 889.8,1306.2C890.2,1304.5 891.0,1296.9 891.4,1296.9C891.8,1296.9 893.0,1303.1 893.4,1306.2C893.9,1309.4 895.1,1325.5 895.6,1328.1C896.1,1330.8 897.8,1333.6 898.4,1332.8C899.0,1332.0 900.9,1323.6 901.6,1320.3C902.2,1317.0 904.1,1303.9 904.7,1300.0C905.3,1296.1 907.2,1284.0 907.8,1281.2C908.4,1278.5 910.4,1273.4 910.9,1272.7C911.5,1271.9 912.8,1272.0 913.3,1273.4C913.8,1274.9 915.4,1284.2 915.9,1287.5C916.5,1290.8 918.4,1302.7 919.1,1306.2C919.7,1309.8 921.6,1321.5 922.2,1323.4C922.7,1325.4 924.0,1326.6 924.5,1325.8C925.1,1325.0 927.1,1316.3 927.7,1315.6C928.2,1314.9 929.4,1317.3 930.0,1318.8C930.6,1320.2 933.2,1327.9 933.9,1329.7C934.7,1331.5 936.8,1335.8 937.5,1336.7C938.2,1337.7 940.3,1341.3 940.9,1339.1C941.5,1336.8 943.0,1318.1 943.4,1314.1C943.9,1310.0 944.7,1300.1 945.3,1298.4C945.9,1296.8 948.4,1297.5 949.2,1297.7C950.1,1297.8 953.2,1298.2 953.9,1300.0C954.6,1301.8 955.7,1311.7 956.2,1315.6C956.8,1319.5 958.8,1335.5 959.4,1339.1C960.0,1342.7 961.8,1350.5 962.5,1351.6C963.2,1352.6 965.8,1349.4 966.4,1349.2C967.0,1349.1 968.1,1349.0 968.8,1350.0C969.4,1351.0 971.9,1357.5 972.7,1359.4C973.4,1361.2 975.8,1367.5 976.6,1368.8C977.3,1370.0 979.8,1372.7 980.5,1371.9C981.2,1371.1 983.0,1362.3 983.6,1360.9C984.1,1359.6 985.4,1357.8 985.9,1358.6C986.5,1359.4 988.4,1366.5 989.1,1368.8C989.8,1371.0 992.3,1380.2 993.0,1381.2C993.7,1382.3 995.5,1381.2 996.1,1379.7C996.6,1378.1 998.0,1368.4 998.4,1365.6C998.9,1362.8 1000.2,1353.2 1000.8,1351.6C1001.4,1349.9 1004.1,1349.3 1004.7,1349.2C1005.3,1349.1 1006.5,1348.8 1007.0,1350.8C1007.6,1352.7 1009.5,1365.5 1010.2,1368.8C1010.9,1372.0 1013.1,1380.3 1014.1,1382.8C1015.0,1385.3 1018.6,1391.4 1019.5,1393.8C1020.5,1396.1 1022.7,1403.4 1023.4,1406.2C1024.1,1409.1 1026.0,1420.5 1026.6,1421.9C1027.1,1423.3 1028.4,1421.9 1028.9,1420.3C1029.4,1418.8 1030.7,1409.5 1031.2,1406.2C1031.8,1403.0 1033.8,1391.7 1034.4,1387.5C1035.0,1383.3 1037.0,1368.6 1037.5,1364.1C1038.0,1359.5 1039.4,1345.5 1039.8,1342.2C1040.3,1338.9 1041.6,1332.5 1042.2,1331.2C1042.7,1330.0 1044.7,1329.4 1045.3,1329.7C1045.9,1330.0 1048.0,1333.6 1048.4,1334.4C1048.9,1335.2 1049.6,1337.5 1050.0,1337.5C1050.4,1337.5 1051.9,1332.8 1052.3,1334.4C1052.8,1335.9 1054.2,1349.1 1054.7,1353.1C1055.2,1357.2 1056.5,1374.2 1057.0,1375.0C1057.6,1375.8 1059.5,1363.8 1060.2,1360.9C1060.9,1358.1 1063.3,1348.4 1064.1,1346.9C1064.8,1345.3 1067.3,1344.2 1068.0,1345.3C1068.7,1346.4 1070.5,1355.2 1071.1,1357.8C1071.7,1360.5 1073.6,1370.2 1074.2,1371.9C1074.8,1373.6 1076.7,1375.3 1077.3,1375.0C1078.0,1374.7 1079.9,1370.9 1080.5,1368.8C1081.0,1366.6 1082.3,1357.8 1082.8,1353.1C1083.3,1348.4 1084.7,1328.9 1085.2,1321.9C1085.6,1314.8 1087.0,1288.8 1087.5,1282.8C1088.0,1276.9 1089.9,1264.8 1090.3,1262.5C1090.7,1260.2 1091.0,1262.1 1091.4,1260.0C1091.8,1257.9 1094.0,1244.4 1094.5,1241.2C1095.1,1238.1 1096.2,1230.2 1096.9,1228.8C1097.6,1227.3 1100.9,1228.8 1101.6,1227.2C1102.3,1225.6 1103.4,1216.1 1103.9,1213.1C1104.5,1210.2 1106.4,1200.2 1107.0,1197.5C1107.7,1194.8 1109.6,1189.2 1110.2,1186.6C1110.7,1183.9 1112.0,1176.4 1112.5,1170.9C1113.0,1165.5 1114.4,1139.7 1114.8,1131.9C1115.3,1124.1 1116.7,1100.6 1117.2,1092.8C1117.7,1085.0 1119.1,1061.6 1119.5,1053.8C1120.0,1045.9 1121.4,1021.2 1121.9,1014.7C1122.3,1008.1 1123.7,992.0 1124.2,988.1C1124.8,984.2 1126.8,977.0 1127.3,975.6C1127.9,974.3 1129.5,973.3 1130.0,974.8C1130.5,976.4 1131.6,987.1 1132.0,991.2C1132.5,995.4 1133.8,1012.8 1134.4,1016.2C1135.0,1019.7 1137.5,1024.0 1138.3,1025.6C1139.1,1027.3 1141.5,1033.0 1142.2,1032.7C1142.9,1032.3 1144.5,1023.9 1145.3,1022.5C1146.1,1021.1 1149.1,1019.6 1150.0,1018.6C1150.9,1017.6 1153.2,1014.6 1153.9,1012.3C1154.6,1010.1 1156.5,998.0 1157.0,995.9C1157.6,993.8 1158.8,990.6 1159.4,991.2C1159.9,991.9 1161.9,999.8 1162.5,1002.2C1163.1,1004.6 1165.1,1014.3 1165.6,1015.5C1166.2,1016.6 1167.4,1015.9 1168.0,1013.9C1168.5,1012.0 1170.5,999.4 1171.1,995.9C1171.7,992.5 1173.7,981.3 1174.2,979.5C1174.8,977.7 1175.9,977.3 1176.6,978.0C1177.2,978.7 1179.8,984.1 1180.5,986.6C1181.2,989.0 1183.0,998.6 1183.6,1002.2C1184.1,1005.8 1185.5,1019.2 1185.9,1022.5C1186.4,1025.8 1187.7,1033.8 1188.3,1035.0C1188.9,1036.2 1191.6,1036.2 1192.2,1035.0C1192.8,1033.8 1194.1,1026.9 1194.5,1022.5C1195.0,1018.1 1196.4,997.5 1196.9,991.2C1197.3,985.0 1198.9,964.6 1199.2,960.0C1199.6,955.4 1200.0,950.2 1200.3,945.6C1200.6,941.1 1201.9,919.1 1202.3,914.4C1202.8,909.6 1204.1,899.5 1204.7,898.0C1205.2,896.4 1207.3,897.1 1207.8,898.8C1208.4,900.4 1209.8,909.7 1210.2,914.4C1210.5,919.1 1211.5,941.1 1211.7,945.6C1212.0,950.2 1212.0,957.3 1212.5,960.0C1213.0,962.7 1215.7,968.6 1216.4,972.5C1217.1,976.4 1218.9,993.3 1219.5,999.1C1220.2,1004.8 1222.0,1024.2 1222.7,1030.3C1223.3,1036.4 1225.2,1056.1 1225.8,1060.0C1226.3,1063.9 1227.7,1069.2 1228.1,1069.4C1228.6,1069.5 1230.1,1065.5 1230.5,1061.6C1230.9,1057.7 1231.7,1035.8 1232.0,1030.3C1232.3,1024.8 1233.2,1009.5 1233.6,1006.9C1234.0,1004.2 1235.5,1003.8 1235.9,1003.8C1236.4,1003.8 1237.7,1004.4 1238.3,1006.9C1238.8,1009.4 1240.8,1023.8 1241.4,1028.8C1242.0,1033.8 1243.8,1053.6 1244.5,1056.9C1245.2,1060.2 1247.7,1060.5 1248.4,1061.6C1249.2,1062.7 1251.6,1065.8 1252.3,1067.8C1253.1,1069.8 1255.5,1078.6 1256.2,1081.9C1257.0,1085.2 1258.8,1096.4 1259.4,1100.6C1260.0,1104.8 1261.9,1118.6 1262.5,1124.1C1263.1,1129.5 1265.0,1149.5 1265.6,1155.3C1266.2,1161.1 1268.2,1178.1 1268.8,1181.9C1269.3,1185.6 1270.5,1193.1 1271.1,1192.8C1271.6,1192.5 1273.6,1181.7 1274.2,1178.8C1274.8,1175.8 1276.6,1165.8 1277.3,1163.1C1278.0,1160.5 1280.4,1154.2 1281.2,1152.2C1282.1,1150.2 1285.2,1144.7 1285.9,1142.8C1286.7,1140.9 1288.5,1134.4 1289.1,1133.4C1289.6,1132.5 1290.9,1132.2 1291.4,1133.4C1292.0,1134.7 1293.8,1143.3 1294.5,1145.9C1295.2,1148.6 1297.7,1158.0 1298.4,1160.0C1299.1,1162.0 1300.9,1166.4 1301.6,1166.2C1302.2,1166.1 1304.0,1161.9 1304.7,1158.4C1305.4,1155.0 1307.8,1136.9 1308.6,1131.9C1309.4,1126.9 1311.8,1113.1 1312.5,1108.4C1313.2,1103.8 1315.0,1089.2 1315.6,1085.0C1316.2,1080.8 1318.2,1068.4 1318.8,1066.2C1319.3,1064.1 1320.5,1062.3 1321.1,1063.1C1321.7,1063.9 1324.2,1071.6 1325.0,1074.1C1325.8,1076.6 1328.2,1085.1 1328.9,1088.1C1329.6,1091.2 1331.3,1103.4 1332.0,1104.5C1332.7,1105.6 1335.2,1099.1 1335.9,1099.1C1336.6,1099.0 1338.3,1102.7 1339.1,1103.8C1339.8,1104.8 1343.0,1108.4 1343.8,1110.0C1344.5,1111.6 1345.6,1116.4 1346.1,1119.4C1346.6,1122.3 1348.0,1136.1 1348.4,1139.7C1348.8,1143.3 1349.5,1153.2 1350.0,1155.3C1350.5,1157.4 1352.4,1158.8 1353.1,1160.9C1353.8,1163.1 1356.3,1174.2 1357.0,1176.6C1357.7,1178.9 1359.5,1185.5 1360.2,1184.4C1360.8,1183.3 1362.7,1168.0 1363.3,1165.6C1363.8,1163.3 1365.1,1160.6 1365.6,1160.9C1366.2,1161.2 1368.1,1166.1 1368.8,1168.8C1369.4,1171.4 1371.2,1183.8 1371.9,1187.5C1372.5,1191.2 1374.5,1204.0 1375.0,1206.2C1375.5,1208.5 1376.9,1210.8 1377.3,1210.2C1377.8,1209.5 1379.2,1204.1 1379.7,1200.0C1380.2,1195.9 1381.6,1173.8 1382.0,1168.8C1382.5,1163.8 1383.9,1152.2 1384.4,1150.0C1384.8,1147.8 1386.2,1145.8 1386.7,1146.9C1387.2,1148.0 1388.6,1157.2 1389.1,1160.9C1389.5,1164.7 1390.9,1180.5 1391.4,1184.4C1391.9,1188.3 1393.3,1199.1 1393.8,1200.0C1394.2,1200.9 1395.5,1196.9 1396.1,1193.8C1396.6,1190.6 1398.6,1173.9 1399.2,1168.8C1399.8,1163.6 1401.8,1145.8 1402.3,1142.2C1402.9,1138.6 1404.1,1133.8 1404.7,1132.8C1405.2,1131.8 1407.2,1131.1 1407.8,1132.0C1408.4,1133.0 1410.4,1138.5 1410.9,1142.2C1411.5,1145.9 1412.7,1163.0 1413.3,1168.8C1413.8,1174.5 1415.8,1194.5 1416.4,1200.0C1417.0,1205.5 1418.9,1219.1 1419.5,1223.4C1420.2,1227.8 1422.0,1240.5 1422.7,1243.8C1423.4,1247.0 1425.8,1253.8 1426.6,1256.2C1427.3,1258.8 1429.7,1265.6 1430.5,1268.8C1431.2,1271.9 1433.7,1287.7 1434.4,1287.5C1435.1,1287.3 1437.0,1270.9 1437.5,1267.2C1438.0,1263.4 1439.2,1252.0 1439.8,1250.0C1440.5,1248.0 1443.0,1248.6 1443.8,1247.7C1444.5,1246.7 1446.3,1240.4 1446.9,1240.6C1447.4,1240.9 1448.8,1246.9 1449.2,1250.0C1449.7,1253.1 1451.0,1267.0 1451.6,1271.9C1452.1,1276.7 1454.1,1293.4 1454.7,1298.4C1455.3,1303.4 1457.3,1317.7 1457.8,1321.9C1458.4,1326.1 1459.6,1338.3 1460.2,1340.6C1460.7,1343.0 1462.7,1346.4 1463.3,1345.3C1463.9,1344.2 1465.8,1331.6 1466.4,1329.7C1467.0,1327.8 1468.9,1327.2 1469.5,1326.6C1470.2,1325.9 1472.1,1324.5 1472.7,1323.4C1473.2,1322.3 1474.4,1316.7 1475.0,1315.6C1475.6,1314.5 1478.3,1314.2 1478.9,1312.5C1479.5,1310.8 1480.8,1302.3 1481.2,1298.4C1481.7,1294.5 1482.7,1276.1 1483.1,1273.4C1483.6,1270.8 1485.2,1270.2 1485.6,1271.9C1486.1,1273.6 1487.2,1287.8 1487.5,1290.6C1487.8,1293.4 1488.6,1299.5 1489.1,1300.0C1489.5,1300.5 1491.6,1293.1 1492.2,1295.3C1492.7,1297.5 1494.1,1317.0 1494.5,1321.9C1494.9,1326.7 1495.6,1342.2 1496.1,1343.8C1496.6,1345.3 1498.6,1338.8 1499.2,1337.5C1499.8,1336.2 1501.6,1332.5 1502.3,1331.2C1503.0,1330.0 1505.5,1327.2 1506.2,1325.0C1507.0,1322.8 1508.7,1312.8 1509.4,1309.4C1510.1,1305.9 1512.7,1293.8 1513.3,1290.6C1513.9,1287.5 1515.1,1279.7 1515.6,1278.1C1516.2,1276.6 1518.1,1274.1 1518.8,1275.0C1519.4,1275.9 1521.2,1284.5 1521.9,1287.5C1522.5,1290.5 1524.4,1301.2 1525.0,1304.7C1525.6,1308.1 1527.5,1318.6 1528.1,1321.9C1528.8,1325.2 1530.6,1335.7 1531.2,1337.5C1531.9,1339.3 1533.8,1340.5 1534.4,1339.8C1535.0,1339.2 1536.9,1332.4 1537.5,1331.2C1538.1,1330.1 1539.9,1328.0 1540.6,1328.1C1541.3,1328.3 1543.8,1331.1 1544.5,1332.8C1545.2,1334.5 1547.0,1342.3 1547.7,1345.3C1548.3,1348.3 1550.2,1359.8 1550.8,1362.5C1551.4,1365.2 1553.3,1372.0 1553.9,1371.9C1554.5,1371.7 1556.4,1364.1 1557.0,1360.9C1557.7,1357.8 1559.6,1343.2 1560.2,1340.6C1560.7,1338.0 1562.0,1335.2 1562.5,1335.2C1563.0,1335.2 1564.8,1339.1 1565.6,1340.6C1566.4,1342.1 1569.4,1348.3 1570.3,1350.0C1571.2,1351.7 1574.1,1356.7 1575.0,1357.8C1575.9,1358.9 1578.8,1360.6 1579.7,1360.9C1580.6,1361.2 1583.6,1362.0 1584.4,1360.9C1585.2,1359.8 1586.9,1352.7 1587.5,1350.0C1588.1,1347.3 1590.0,1337.5 1590.6,1334.4C1591.2,1331.2 1593.0,1321.9 1593.8,1318.8C1594.5,1315.6 1597.0,1305.0 1597.7,1303.1C1598.4,1301.2 1600.2,1299.8 1600.8,1300.0C1601.4,1300.2 1603.3,1302.8 1603.9,1304.7C1604.5,1306.6 1606.4,1315.5 1607.0,1318.8C1607.7,1322.0 1609.6,1333.4 1610.2,1337.5C1610.7,1341.6 1612.0,1356.1 1612.5,1359.4C1613.0,1362.7 1614.4,1370.9 1614.8,1370.3C1615.3,1369.7 1616.7,1359.5 1617.2,1353.1C1617.7,1346.7 1619.1,1312.5 1619.5,1306.2C1620.0,1300.0 1621.3,1293.0 1621.9,1290.6C1622.4,1288.3 1624.5,1286.7 1625.0,1282.8C1625.5,1278.9 1626.2,1255.0 1626.6,1251.6C1627.0,1248.1 1628.4,1246.1 1628.9,1248.4C1629.4,1250.8 1630.8,1270.5 1631.2,1275.0C1631.7,1279.5 1633.0,1290.8 1633.6,1293.8C1634.2,1296.7 1636.9,1301.9 1637.5,1304.7C1638.1,1307.5 1639.4,1317.0 1639.8,1321.9C1640.3,1326.7 1641.6,1348.8 1642.2,1353.1C1642.7,1357.5 1644.5,1364.8 1645.3,1365.6C1646.1,1366.4 1649.4,1362.2 1650.0,1360.9C1650.6,1359.7 1650.9,1355.0 1651.2,1353.1C1651.6,1351.2 1653.0,1344.5 1653.6,1342.2C1654.2,1339.8 1656.4,1333.3 1657.0,1329.7C1657.7,1326.1 1659.5,1313.3 1660.0,1306.2C1660.5,1299.2 1661.3,1270.3 1661.6,1259.4C1661.8,1248.4 1662.2,1207.8 1662.3,1196.9C1662.5,1185.9 1663.1,1159.7 1663.2,1150.0C1663.3,1140.3 1663.7,1117.0 1663.8,1100.0C1663.9,1083.0 1664.5,1002.0 1664.6,980.0C1664.7,958.0 1664.7,900.0 1665.0,880.0C1665.3,860.0 1666.8,810.0 1667.2,780.0C1667.6,750.0 1668.9,621.0 1669.3,580.0C1669.7,539.0 1670.7,396.0 1671.0,370.0C1671.3,344.0 1672.3,326.4 1672.6,320.0C1672.9,313.6 1673.7,306.5 1674.0,306.5C1674.3,306.5 1675.1,313.6 1675.4,320.0C1675.7,326.4 1676.5,344.0 1677.0,370.0C1677.5,396.0 1679.9,539.0 1680.7,580.0C1681.5,621.0 1684.7,750.0 1685.4,780.0C1686.1,810.0 1687.1,865.4 1687.5,880.0C1687.9,894.6 1688.8,916.6 1689.2,925.8C1689.7,934.9 1691.4,963.5 1692.0,971.5C1692.6,979.5 1694.4,1000.9 1694.9,1005.9C1695.4,1010.9 1696.7,1019.7 1697.2,1021.9C1697.7,1024.1 1699.3,1027.0 1700.0,1027.6C1700.7,1028.2 1703.2,1027.2 1704.0,1027.6C1704.8,1028.0 1707.3,1030.8 1708.0,1032.0C1708.7,1033.2 1710.4,1037.5 1710.9,1040.0C1711.4,1042.5 1712.7,1054.1 1713.2,1057.3C1713.7,1060.5 1714.9,1069.7 1715.5,1072.0C1716.1,1074.3 1718.2,1078.7 1718.9,1080.0C1719.6,1081.3 1722.2,1083.6 1722.9,1084.8C1723.7,1086.0 1725.8,1089.9 1726.4,1091.7C1727.0,1093.5 1728.0,1099.6 1728.5,1103.0C1729.0,1106.4 1730.8,1121.3 1731.2,1125.8C1731.7,1130.3 1732.8,1143.2 1733.3,1148.0C1733.8,1152.8 1735.8,1168.5 1736.4,1173.4C1737.0,1178.3 1738.9,1192.7 1739.5,1196.9C1740.2,1201.1 1742.0,1212.0 1742.7,1215.6C1743.3,1219.2 1745.2,1230.2 1745.8,1232.8C1746.4,1235.5 1748.3,1239.5 1748.9,1242.2C1749.5,1244.8 1751.4,1255.8 1752.0,1259.4C1752.7,1263.0 1754.5,1274.4 1755.2,1278.1C1755.8,1281.9 1757.7,1293.3 1758.3,1296.9C1758.9,1300.5 1760.8,1312.0 1761.4,1314.1C1762.0,1316.1 1764.0,1316.1 1764.5,1317.2C1765.1,1318.3 1766.4,1325.3 1766.9,1325.0C1767.3,1324.7 1768.8,1317.2 1769.2,1314.1C1769.7,1310.9 1771.0,1296.7 1771.6,1293.8C1772.1,1290.8 1774.0,1285.6 1774.7,1284.4C1775.4,1283.1 1777.9,1280.9 1778.6,1281.2C1779.3,1281.6 1781.1,1285.0 1781.7,1287.5C1782.3,1290.0 1784.2,1302.7 1784.8,1306.2C1785.5,1309.8 1787.3,1322.5 1788.0,1323.4C1788.6,1324.4 1790.5,1317.2 1791.1,1315.6C1791.7,1314.1 1793.6,1308.8 1794.2,1307.8C1794.8,1306.9 1796.6,1306.8 1797.3,1306.2C1798.0,1305.7 1800.5,1302.5 1801.2,1302.3C1802.0,1302.2 1804.4,1304.7 1805.2,1304.7C1805.9,1304.7 1808.4,1303.4 1809.1,1302.3C1809.8,1301.3 1811.4,1295.7 1812.2,1294.5C1813.0,1293.4 1815.9,1291.5 1816.9,1290.6C1817.8,1289.8 1820.9,1286.8 1821.6,1285.9C1822.3,1285.1 1823.4,1281.9 1823.9,1282.0C1824.4,1282.2 1825.6,1287.9 1826.2,1287.5C1826.9,1287.1 1829.4,1280.6 1830.2,1278.1C1830.9,1275.6 1833.4,1266.6 1834.1,1262.5C1834.8,1258.4 1836.6,1242.5 1837.2,1237.5C1837.7,1232.5 1839.1,1216.0 1839.5,1212.5C1840.0,1209.0 1841.4,1203.1 1841.9,1202.3C1842.3,1201.6 1843.7,1202.4 1844.2,1204.7C1844.8,1207.0 1846.8,1220.3 1847.3,1225.0C1847.9,1229.7 1849.3,1246.2 1849.7,1251.6C1850.1,1256.9 1850.8,1275.0 1851.2,1278.1C1851.7,1281.2 1853.8,1283.1 1854.4,1282.8C1854.9,1282.5 1856.2,1278.3 1856.7,1275.0C1857.2,1271.7 1858.5,1254.0 1859.1,1250.0C1859.6,1246.0 1861.5,1236.9 1862.2,1235.2C1862.9,1233.4 1865.5,1232.0 1866.1,1232.8C1866.7,1233.7 1868.0,1241.9 1868.4,1243.8C1868.9,1245.6 1870.3,1251.4 1870.8,1251.6C1871.2,1251.7 1872.7,1248.4 1873.1,1245.3C1873.6,1242.2 1875.0,1225.2 1875.5,1220.3C1875.9,1215.5 1877.3,1201.4 1877.8,1196.9C1878.3,1192.3 1879.5,1177.4 1880.2,1175.0C1880.8,1172.6 1883.7,1172.9 1884.1,1172.7"/>
<path id="pb" stroke="#4197f4" stroke-opacity="0.7" d="M171.1,1494.1C171.6,1495.0 174.9,1502.2 175.8,1503.4C176.6,1504.7 178.6,1506.6 179.7,1506.6C180.8,1506.6 185.6,1504.8 186.7,1503.4C187.8,1502.0 189.8,1494.1 190.6,1492.5C191.5,1490.9 194.5,1488.5 195.3,1487.0C196.2,1485.5 198.5,1478.7 199.2,1477.7C199.9,1476.6 201.5,1476.7 202.3,1476.9C203.2,1477.0 206.8,1479.3 207.8,1479.2C208.8,1479.1 211.6,1477.7 212.5,1476.1C213.4,1474.5 216.3,1465.4 217.2,1462.8C218.0,1460.2 220.3,1452.3 221.1,1450.3C221.9,1448.3 224.3,1444.4 225.0,1442.5C225.7,1440.6 227.4,1433.8 228.1,1431.6C228.8,1429.4 231.3,1423.3 232.0,1420.6C232.7,1418.0 234.5,1406.8 235.2,1405.0C235.8,1403.2 237.4,1402.7 238.3,1402.7C239.1,1402.6 242.9,1403.5 243.8,1404.2C244.6,1404.9 246.3,1408.5 246.9,1409.7C247.4,1410.9 248.4,1415.2 249.2,1415.9C250.0,1416.7 253.6,1417.3 254.7,1417.5C255.8,1417.7 259.3,1418.5 260.2,1418.3C261.0,1418.0 262.7,1416.1 263.3,1415.2C263.8,1414.2 265.0,1410.0 265.6,1408.9C266.2,1407.8 268.8,1406.5 269.5,1404.2C270.2,1402.0 272.1,1388.7 272.7,1386.2C273.2,1383.8 274.1,1380.0 275.0,1380.0C275.9,1380.0 280.2,1385.1 281.2,1386.2C282.3,1387.4 285.1,1392.0 285.9,1391.7C286.8,1391.4 289.1,1384.3 289.8,1383.1C290.6,1382.0 292.9,1379.8 293.8,1380.0C294.6,1380.2 297.6,1384.5 298.4,1384.7C299.3,1384.8 301.6,1383.0 302.3,1381.6C303.1,1380.2 305.5,1373.0 306.2,1370.6C307.0,1368.3 308.8,1359.7 309.4,1358.1C310.0,1356.6 311.9,1354.8 312.5,1355.0C313.1,1355.2 314.8,1358.4 315.6,1360.5C316.4,1362.5 319.5,1373.0 320.3,1375.3C321.2,1377.7 323.5,1382.9 324.2,1383.9C324.9,1384.9 326.6,1385.5 327.3,1385.5C328.0,1385.4 330.4,1382.0 331.2,1383.1C332.1,1384.3 335.1,1394.5 335.9,1397.2C336.8,1399.8 339.0,1407.0 339.8,1409.7C340.7,1412.3 343.7,1422.0 344.5,1423.8C345.4,1425.5 347.4,1427.7 348.4,1427.7C349.5,1427.7 353.5,1424.6 354.7,1423.8C355.9,1422.9 359.1,1419.1 360.2,1419.1C361.2,1419.0 364.0,1422.7 364.8,1423.0C365.7,1423.3 368.0,1421.8 368.8,1422.2C369.5,1422.6 371.9,1426.2 372.7,1426.9C373.4,1427.5 375.7,1427.0 376.6,1428.4C377.4,1429.8 380.3,1438.4 381.2,1440.9C382.2,1443.4 385.1,1451.8 385.9,1453.4C386.8,1455.1 389.0,1457.7 389.8,1457.3C390.7,1457.0 393.8,1450.5 394.5,1449.5C395.3,1448.5 396.9,1446.9 397.7,1447.2C398.4,1447.5 401.4,1450.9 402.3,1452.7C403.3,1454.4 406.1,1462.1 407.0,1464.4C408.0,1466.6 410.8,1473.8 411.7,1475.3C412.7,1476.8 415.5,1479.4 416.4,1479.2C417.3,1479.1 420.2,1475.2 421.1,1473.8C422.0,1472.3 424.2,1466.9 425.0,1464.4C425.8,1461.9 428.1,1450.6 428.9,1448.8C429.7,1446.9 432.0,1446.2 432.8,1445.6C433.7,1445.1 436.7,1441.9 437.5,1443.3C438.3,1444.7 439.8,1457.8 440.6,1459.7C441.4,1461.6 444.4,1461.4 445.3,1462.0C446.2,1462.7 448.8,1465.4 450.0,1465.9C451.2,1466.5 456.2,1467.6 457.8,1467.7C459.4,1467.8 464.2,1466.6 465.6,1466.9C467.0,1467.1 470.5,1469.0 471.9,1470.0C473.3,1471.0 478.3,1476.6 479.7,1477.0C481.1,1477.5 484.8,1475.1 485.9,1474.7C487.1,1474.3 490.5,1472.3 491.4,1473.1C492.3,1473.9 494.5,1481.0 495.3,1482.5C496.2,1484.0 499.1,1486.6 500.0,1488.0C500.9,1489.3 503.0,1495.7 503.9,1495.8C504.8,1495.9 507.7,1489.1 508.6,1488.8C509.5,1488.4 511.6,1492.3 512.5,1492.7C513.4,1493.0 516.2,1490.9 517.2,1491.9C518.1,1492.9 520.7,1500.7 521.9,1502.8C523.0,1504.9 527.6,1512.0 528.9,1513.0C530.2,1513.9 533.9,1512.6 535.2,1512.2C536.4,1511.8 540.4,1509.1 541.4,1509.1C542.4,1509.0 544.5,1511.3 545.3,1511.4C546.1,1511.5 548.6,1509.6 549.2,1509.8C549.8,1510.1 551.0,1512.3 551.6,1513.8C552.1,1515.2 554.1,1522.7 554.7,1524.7C555.3,1526.7 557.1,1532.5 557.8,1534.1C558.5,1535.6 560.9,1539.8 561.7,1540.3C562.5,1540.9 564.8,1540.4 565.6,1539.5C566.4,1538.7 568.8,1532.6 569.5,1531.7C570.2,1530.9 572.0,1530.4 572.7,1530.9C573.4,1531.5 575.7,1535.5 576.6,1537.2C577.4,1538.8 580.3,1546.0 581.2,1547.3C582.2,1548.7 585.0,1550.2 585.9,1550.5C586.9,1550.7 589.7,1550.5 590.6,1549.7C591.6,1548.9 594.4,1543.6 595.3,1542.7C596.2,1541.7 599.1,1541.2 600.0,1540.3C600.9,1539.4 602.8,1534.5 603.9,1533.3C605.0,1532.0 609.8,1527.9 610.9,1527.8C612.0,1527.7 613.8,1532.5 614.8,1532.5C615.9,1532.5 620.7,1529.1 621.9,1527.8C623.0,1526.6 625.5,1520.9 626.6,1520.0C627.6,1519.1 631.1,1519.1 632.0,1518.4C633.0,1517.8 635.2,1514.1 635.9,1513.8C636.6,1513.4 638.4,1514.1 639.1,1515.3C639.8,1516.6 642.2,1524.1 643.0,1526.2C643.8,1528.4 646.2,1535.2 646.9,1537.2C647.6,1539.2 649.4,1545.3 650.0,1546.6C650.6,1547.8 652.3,1550.3 653.1,1549.7C653.9,1549.1 656.7,1541.7 657.8,1540.3C658.9,1538.9 663.0,1535.8 664.1,1535.6C665.2,1535.5 667.8,1538.0 668.8,1538.8C669.7,1539.5 672.6,1541.9 673.4,1543.4C674.3,1545.0 676.6,1553.0 677.3,1554.4C678.1,1555.8 680.4,1557.0 681.2,1557.5C682.1,1558.0 684.9,1559.8 685.9,1559.1C687.0,1558.4 690.3,1552.3 691.4,1550.5C692.5,1548.6 696.0,1541.5 696.9,1540.3C697.7,1539.1 699.3,1538.3 700.0,1538.8C700.7,1539.2 703.0,1543.2 703.9,1545.0C704.8,1546.8 707.8,1555.1 708.6,1556.7C709.4,1558.4 710.7,1561.1 711.7,1561.6C712.7,1562.0 717.8,1562.1 718.8,1560.9C719.7,1559.8 720.5,1553.0 721.1,1549.7C721.7,1546.4 724.2,1532.3 725.0,1527.8C725.8,1523.3 728.1,1508.1 728.9,1504.4C729.7,1500.6 731.9,1492.3 732.8,1490.3C733.8,1488.3 737.2,1485.9 738.3,1484.1C739.4,1482.2 742.8,1474.5 743.8,1471.6C744.7,1468.6 747.0,1457.3 747.7,1454.4C748.3,1451.4 749.5,1442.4 750.0,1441.9C750.5,1441.3 752.4,1450.2 753.1,1448.8C753.8,1447.2 756.2,1430.9 757.0,1426.9C757.8,1422.8 760.2,1410.4 760.9,1408.1C761.6,1405.9 763.4,1404.5 764.1,1404.2C764.8,1403.9 767.3,1403.9 768.0,1405.0C768.7,1406.1 770.3,1413.9 771.1,1415.2C771.9,1416.4 774.8,1417.3 775.8,1417.5C776.7,1417.7 779.7,1418.1 780.5,1417.5C781.2,1416.9 782.9,1412.1 783.6,1411.2C784.3,1410.4 786.6,1408.8 787.5,1408.9C788.4,1409.1 791.1,1412.6 792.2,1412.8C793.3,1413.0 797.3,1411.7 798.4,1411.2C799.6,1410.8 802.9,1408.3 803.9,1408.1C804.9,1408.0 807.6,1410.2 808.6,1409.7C809.6,1409.2 813.0,1404.6 814.1,1403.4C815.1,1402.3 818.0,1398.7 818.8,1398.0C819.5,1397.3 820.8,1396.4 821.9,1396.4C823.0,1396.4 828.1,1397.6 829.7,1398.0C831.2,1398.4 836.2,1400.9 837.5,1400.3C838.8,1399.8 841.2,1393.7 842.2,1392.5C843.1,1391.3 846.1,1389.1 846.9,1388.6C847.7,1388.1 848.9,1387.3 850.0,1387.8C851.1,1388.4 856.6,1392.5 857.8,1394.1C859.0,1395.6 860.9,1402.1 861.7,1403.4C862.6,1404.8 865.2,1406.6 866.4,1407.3C867.6,1408.0 872.3,1409.6 873.4,1410.5C874.6,1411.3 877.2,1414.5 878.1,1415.9C879.1,1417.4 881.9,1423.3 882.8,1425.3C883.8,1427.3 886.6,1434.2 887.5,1436.2C888.4,1438.3 891.3,1444.2 892.2,1445.6C893.0,1447.0 895.0,1449.8 896.1,1450.3C897.2,1450.9 902.0,1451.2 903.1,1451.1C904.3,1451.0 906.9,1449.5 907.8,1449.5C908.8,1449.6 911.5,1450.7 912.5,1451.9C913.5,1453.0 917.0,1460.0 918.0,1461.2C919.0,1462.5 921.7,1464.0 922.7,1464.4C923.6,1464.8 926.3,1464.6 927.3,1465.2C928.4,1465.7 931.9,1469.0 932.8,1469.8C933.8,1470.7 936.0,1472.4 936.7,1473.8C937.4,1475.1 939.1,1482.3 939.8,1483.1C940.6,1484.0 943.7,1482.0 944.5,1482.3C945.4,1482.7 947.7,1486.4 948.4,1486.2C949.2,1486.1 951.6,1480.9 952.3,1480.8C953.1,1480.7 955.4,1484.2 956.2,1485.5C957.1,1486.7 960.0,1492.3 960.9,1493.3C961.9,1494.2 964.8,1495.1 965.6,1494.8C966.5,1494.6 968.8,1491.7 969.5,1490.9C970.3,1490.2 972.7,1486.7 973.4,1487.0C974.2,1487.3 976.4,1492.7 977.3,1494.1C978.3,1495.4 981.7,1498.8 982.8,1500.3C983.9,1501.8 987.1,1507.7 988.3,1508.9C989.5,1510.2 993.2,1512.1 994.5,1512.8C995.9,1513.5 1000.3,1515.2 1001.6,1515.9C1002.8,1516.6 1006.2,1519.9 1007.0,1519.8C1007.9,1519.8 1009.5,1515.6 1010.2,1515.2C1010.9,1514.7 1013.2,1514.3 1014.1,1515.2C1014.9,1516.0 1017.9,1522.5 1018.8,1523.8C1019.6,1525.0 1021.9,1527.6 1022.7,1527.7C1023.4,1527.7 1025.7,1526.2 1026.6,1524.5C1027.4,1522.9 1030.3,1513.4 1031.2,1511.2C1032.2,1509.1 1034.8,1504.5 1035.9,1503.4C1037.0,1502.3 1040.8,1500.7 1042.2,1500.3C1043.6,1499.9 1049.0,1500.0 1050.0,1499.5C1051.0,1499.1 1051.2,1496.1 1052.1,1495.8C1052.9,1495.6 1057.3,1496.5 1058.3,1496.9C1059.4,1497.3 1061.9,1499.4 1062.5,1500.0C1063.1,1500.6 1063.8,1502.6 1064.6,1503.1C1065.4,1503.6 1069.8,1505.2 1070.8,1505.2C1071.8,1505.2 1073.8,1504.3 1074.5,1503.1C1075.2,1502.0 1077.4,1495.9 1078.1,1493.8C1078.8,1491.6 1080.7,1483.9 1081.2,1481.2C1081.8,1478.6 1083.4,1470.4 1083.9,1467.7C1084.3,1465.0 1085.3,1456.7 1085.9,1454.2C1086.5,1451.6 1089.1,1444.5 1089.8,1442.2C1090.6,1439.9 1093.0,1433.9 1093.8,1431.2C1094.5,1428.6 1096.2,1418.4 1096.9,1415.6C1097.6,1412.8 1100.2,1406.2 1100.8,1403.1C1101.4,1400.0 1102.7,1388.0 1103.1,1384.4C1103.6,1380.8 1104.6,1372.0 1105.2,1367.2C1105.8,1362.3 1108.3,1342.2 1109.1,1335.9C1109.8,1329.7 1112.2,1311.1 1113.0,1304.8C1113.8,1298.6 1116.2,1278.3 1116.9,1273.6C1117.6,1268.9 1119.5,1261.1 1120.0,1258.0C1120.5,1254.8 1121.8,1245.5 1122.3,1242.3C1122.9,1239.2 1124.8,1229.4 1125.5,1226.7C1126.2,1224.1 1128.4,1217.5 1129.4,1215.9C1130.3,1214.4 1133.9,1211.5 1134.8,1211.2C1135.8,1211.0 1137.8,1214.1 1138.8,1213.4C1139.7,1212.8 1142.7,1206.4 1144.2,1205.0C1145.7,1203.6 1151.8,1200.8 1153.6,1199.5C1155.4,1198.3 1160.9,1193.0 1162.2,1192.5C1163.5,1192.0 1166.0,1194.8 1166.9,1194.8C1167.7,1194.9 1170.0,1192.7 1170.8,1193.3C1171.6,1193.8 1174.0,1198.2 1174.7,1200.3C1175.3,1202.4 1176.7,1211.4 1177.3,1214.1C1178.0,1216.7 1180.5,1224.5 1181.2,1226.6C1182.0,1228.7 1184.3,1234.1 1185.2,1235.2C1186.0,1236.2 1188.8,1237.7 1189.8,1237.5C1190.9,1237.3 1194.5,1234.7 1195.3,1232.8C1196.2,1230.9 1197.8,1221.7 1198.4,1218.8C1199.1,1215.8 1201.0,1205.2 1201.6,1203.1C1202.2,1201.0 1203.8,1197.7 1204.4,1197.7C1205.0,1197.7 1207.2,1201.2 1207.8,1203.1C1208.5,1205.1 1210.3,1213.8 1210.9,1217.2C1211.6,1220.6 1213.4,1234.1 1214.1,1237.5C1214.7,1240.9 1216.5,1249.7 1217.2,1250.8C1217.9,1251.9 1220.3,1249.0 1221.1,1248.4C1221.9,1247.9 1224.0,1245.3 1225.0,1245.3C1226.0,1245.3 1230.2,1247.2 1231.2,1248.4C1232.3,1249.7 1235.0,1255.9 1235.9,1257.8C1236.9,1259.7 1239.5,1265.9 1240.6,1267.2C1241.7,1268.4 1245.6,1270.2 1246.9,1270.3C1248.1,1270.5 1252.0,1269.0 1253.1,1268.8C1254.2,1268.5 1256.7,1267.3 1257.8,1268.0C1258.9,1268.6 1263.0,1273.4 1264.1,1275.0C1265.2,1276.6 1267.7,1282.3 1268.8,1284.4C1269.8,1286.4 1273.9,1294.0 1275.0,1295.3C1276.1,1296.6 1278.8,1297.7 1279.7,1297.7C1280.6,1297.7 1283.4,1295.9 1284.4,1295.3C1285.3,1294.8 1288.2,1291.6 1289.1,1292.2C1289.9,1292.8 1292.2,1299.5 1293.0,1301.6C1293.8,1303.6 1296.2,1311.3 1296.9,1312.5C1297.6,1313.7 1299.3,1313.9 1300.0,1313.3C1300.7,1312.7 1303.0,1307.2 1303.9,1306.2C1304.8,1305.3 1307.7,1303.8 1308.6,1303.9C1309.5,1304.1 1311.8,1306.3 1312.5,1307.8C1313.2,1309.3 1314.8,1317.8 1315.6,1318.8C1316.4,1319.7 1319.2,1317.7 1320.3,1317.2C1321.4,1316.6 1325.5,1313.4 1326.6,1313.3C1327.6,1313.1 1329.7,1314.3 1330.5,1315.6C1331.2,1317.0 1333.6,1324.4 1334.4,1326.6C1335.2,1328.8 1337.3,1336.2 1338.3,1337.5C1339.2,1338.8 1342.8,1338.9 1343.8,1339.8C1344.7,1340.8 1347.0,1345.4 1347.7,1346.9C1348.3,1348.4 1349.4,1352.8 1350.0,1354.7C1350.6,1356.6 1353.0,1364.1 1353.9,1365.6C1354.8,1367.2 1357.7,1370.2 1358.6,1370.3C1359.5,1370.4 1362.4,1366.6 1363.3,1366.4C1364.1,1366.2 1366.4,1367.0 1367.2,1368.0C1368.0,1369.0 1370.2,1375.1 1371.1,1376.6C1372.0,1378.0 1374.8,1382.0 1375.8,1382.8C1376.7,1383.7 1379.5,1385.0 1380.5,1385.2C1381.4,1385.3 1384.3,1383.5 1385.2,1384.4C1386.0,1385.2 1388.2,1392.2 1389.1,1393.8C1389.9,1395.3 1392.7,1399.0 1393.8,1400.0C1394.8,1401.0 1398.8,1402.8 1400.0,1403.9C1401.2,1405.0 1404.5,1409.0 1405.5,1410.9C1406.4,1412.9 1408.7,1420.6 1409.4,1423.4C1410.1,1426.2 1411.7,1436.9 1412.5,1439.1C1413.3,1441.2 1416.2,1444.7 1417.2,1445.3C1418.1,1445.9 1420.9,1445.5 1421.9,1445.3C1422.8,1445.2 1425.8,1443.3 1426.6,1443.8C1427.3,1444.2 1429.1,1448.4 1429.7,1450.0C1430.3,1451.6 1432.2,1458.0 1432.8,1459.4C1433.4,1460.7 1435.0,1463.0 1435.9,1463.3C1436.9,1463.6 1441.1,1462.8 1442.2,1462.5C1443.3,1462.2 1445.9,1459.9 1446.9,1460.2C1447.8,1460.4 1450.5,1463.8 1451.6,1464.8C1452.7,1465.9 1456.7,1471.0 1457.8,1471.1C1458.9,1471.2 1461.6,1466.6 1462.5,1465.6C1463.4,1464.6 1466.1,1461.3 1467.2,1460.9C1468.3,1460.5 1472.3,1460.9 1473.4,1461.7C1474.6,1462.5 1478.0,1469.0 1478.9,1468.8C1479.8,1468.5 1482.0,1460.3 1482.8,1459.4C1483.6,1458.4 1485.9,1460.1 1486.7,1459.4C1487.6,1458.7 1490.6,1452.7 1491.4,1452.3C1492.2,1452.0 1494.0,1455.1 1494.5,1456.2C1495.1,1457.4 1496.1,1463.0 1496.9,1464.1C1497.7,1465.2 1501.2,1466.3 1502.3,1467.2C1503.4,1468.0 1506.7,1471.7 1507.8,1472.7C1508.9,1473.6 1512.3,1476.5 1513.3,1476.6C1514.3,1476.6 1517.1,1473.9 1518.0,1473.4C1518.8,1473.0 1521.0,1471.6 1521.9,1471.9C1522.7,1472.2 1525.6,1475.9 1526.6,1476.6C1527.5,1477.2 1530.3,1478.2 1531.2,1478.1C1532.2,1478.0 1535.1,1475.9 1535.9,1475.8C1536.8,1475.6 1539.1,1475.7 1539.8,1476.6C1540.6,1477.4 1543.0,1482.7 1543.8,1484.4C1544.5,1486.1 1546.9,1492.2 1547.7,1493.8C1548.4,1495.3 1550.7,1499.7 1551.6,1500.0C1552.4,1500.3 1555.3,1497.6 1556.2,1496.9C1557.2,1496.2 1560.1,1492.8 1560.9,1493.0C1561.8,1493.1 1564.1,1497.1 1564.8,1498.4C1565.6,1499.8 1568.0,1505.4 1568.8,1506.2C1569.5,1507.1 1571.1,1507.7 1571.9,1507.0C1572.7,1506.4 1575.5,1501.1 1576.6,1500.0C1577.6,1498.9 1581.2,1495.6 1582.0,1496.1C1582.9,1496.6 1584.5,1503.1 1585.2,1504.7C1585.8,1506.2 1587.6,1511.2 1588.3,1511.7C1589.0,1512.2 1591.3,1511.0 1592.2,1509.4C1593.0,1507.7 1596.0,1497.7 1596.9,1495.3C1597.7,1493.0 1600.1,1487.2 1600.8,1485.9C1601.5,1484.7 1603.2,1482.5 1603.9,1482.8C1604.6,1483.1 1607.0,1487.2 1607.8,1489.1C1608.6,1490.9 1610.9,1499.4 1611.7,1501.6C1612.5,1503.8 1614.8,1510.3 1615.6,1510.9C1616.4,1511.6 1618.6,1509.4 1619.5,1507.8C1620.5,1506.2 1624.0,1497.0 1625.0,1495.3C1626.0,1493.6 1628.6,1490.8 1629.7,1490.6C1630.8,1490.5 1634.8,1492.5 1635.9,1493.8C1637.0,1495.0 1639.8,1501.1 1640.6,1503.1C1641.5,1505.2 1643.6,1512.2 1644.5,1514.1C1645.5,1515.9 1649.3,1520.9 1650.0,1521.9C1650.7,1522.9 1650.8,1523.8 1651.2,1524.2C1651.7,1524.6 1653.8,1525.9 1654.4,1525.8C1655.0,1525.7 1657.0,1524.5 1657.5,1523.4C1658.0,1522.4 1659.5,1517.8 1659.8,1515.6C1660.2,1513.4 1660.8,1505.3 1660.9,1501.6C1661.1,1497.8 1661.4,1483.6 1661.6,1478.1C1661.7,1472.7 1662.0,1453.1 1662.2,1446.9C1662.3,1440.6 1662.7,1429.7 1663.0,1415.6C1663.2,1401.5 1664.2,1324.8 1664.5,1306.0C1664.8,1287.2 1665.7,1243.6 1666.0,1228.0C1666.3,1212.4 1667.4,1162.8 1667.7,1150.0C1668.0,1137.2 1668.9,1117.0 1669.2,1100.0C1669.5,1083.0 1670.5,1000.0 1670.8,980.0C1671.1,960.0 1672.3,910.8 1672.6,900.0C1672.9,889.2 1673.7,872.0 1674.0,872.0C1674.3,872.0 1675.0,889.2 1675.4,900.0C1675.8,910.8 1677.4,960.0 1678.0,980.0C1678.6,1000.0 1681.0,1083.0 1681.7,1100.0C1682.4,1117.0 1684.5,1141.9 1685.0,1150.0C1685.5,1158.1 1686.3,1174.8 1686.7,1181.0C1687.1,1187.2 1688.4,1207.3 1688.8,1212.5C1689.1,1217.7 1690.1,1229.4 1690.6,1232.8C1691.1,1236.2 1693.1,1243.9 1693.8,1246.9C1694.4,1249.8 1696.3,1259.4 1696.9,1262.5C1697.4,1265.6 1698.8,1275.3 1699.4,1278.1C1700.0,1280.9 1702.1,1288.1 1702.8,1290.6C1703.5,1293.1 1705.5,1300.8 1706.2,1303.1C1707.0,1305.5 1709.0,1312.0 1709.8,1314.1C1710.7,1316.1 1713.7,1321.2 1714.5,1323.4C1715.4,1325.6 1717.7,1333.6 1718.4,1335.9C1719.2,1338.3 1721.6,1344.4 1722.3,1346.9C1723.0,1349.4 1724.9,1358.0 1725.5,1360.9C1726.0,1363.9 1727.3,1373.4 1727.8,1376.6C1728.3,1379.7 1729.6,1388.6 1730.2,1392.2C1730.7,1395.8 1732.9,1408.6 1733.3,1412.5C1733.7,1416.4 1733.7,1427.8 1734.1,1431.2C1734.5,1434.7 1736.5,1443.8 1737.2,1446.9C1737.9,1450.0 1740.3,1459.5 1741.1,1462.5C1741.9,1465.5 1744.1,1474.4 1745.0,1476.6C1745.9,1478.8 1748.8,1482.8 1749.7,1484.4C1750.6,1485.9 1753.5,1490.2 1754.4,1492.2C1755.2,1494.2 1757.5,1502.3 1758.3,1504.7C1759.1,1507.0 1761.5,1513.6 1762.2,1515.6C1762.9,1517.7 1764.7,1524.1 1765.3,1525.0C1765.9,1525.9 1767.9,1525.7 1768.4,1525.0C1769.0,1524.3 1770.2,1519.1 1770.8,1518.0C1771.4,1516.9 1773.8,1514.6 1774.7,1514.1C1775.5,1513.5 1778.6,1512.0 1779.4,1512.5C1780.2,1513.0 1781.9,1517.5 1782.5,1518.8C1783.1,1520.0 1785.0,1524.5 1785.6,1525.0C1786.2,1525.5 1788.1,1524.2 1788.8,1523.4C1789.4,1522.7 1791.2,1518.4 1791.9,1517.2C1792.6,1516.0 1795.0,1512.3 1795.8,1511.7C1796.6,1511.2 1798.8,1511.5 1799.7,1511.7C1800.5,1512.0 1803.5,1514.3 1804.4,1514.1C1805.2,1513.8 1807.4,1510.0 1808.3,1509.4C1809.1,1508.8 1812.0,1508.3 1813.0,1507.8C1813.9,1507.3 1816.8,1504.8 1817.7,1504.7C1818.5,1504.6 1820.7,1507.1 1821.6,1507.0C1822.4,1507.0 1825.3,1504.8 1826.2,1503.9C1827.2,1503.0 1830.0,1499.5 1830.9,1498.4C1831.9,1497.3 1834.7,1493.6 1835.6,1493.0C1836.6,1492.3 1839.3,1492.0 1840.3,1492.2C1841.3,1492.3 1844.8,1493.8 1845.8,1494.5C1846.8,1495.3 1849.6,1499.5 1850.5,1500.0C1851.3,1500.5 1853.6,1499.2 1854.4,1499.2C1855.2,1499.2 1857.5,1500.4 1858.3,1500.0C1859.1,1499.6 1861.3,1496.6 1862.2,1495.3C1863.0,1494.1 1866.0,1489.1 1866.9,1487.5C1867.7,1485.9 1870.0,1481.2 1870.8,1479.7C1871.6,1478.1 1874.0,1473.3 1874.7,1471.9C1875.4,1470.5 1877.2,1466.4 1877.8,1465.6C1878.4,1464.9 1880.3,1464.2 1880.9,1464.4C1881.6,1464.5 1883.8,1466.6 1884.1,1466.9"/>
</g>
</svg>
<div class="yl" style="top:1706.6px">0</div><div class="pc" style="top:1706.6px">%</div><div class="yl" style="top:1493.4px">2</div><div class="pc" style="top:1493.4px">%</div><div class="yl" style="top:1280.3px">4</div><div class="pc" style="top:1280.3px">%</div><div class="yl" style="top:1067.1px">6</div><div class="pc" style="top:1067.1px">%</div><div class="yl" style="top:853.9px">8</div><div class="pc" style="top:853.9px">%</div><div class="yl" style="top:640.7px">10</div><div class="pc" style="top:640.7px">%</div><div class="yl" style="top:427.6px">12</div><div class="pc" style="top:427.6px">%</div><div class="yl" style="top:214.4px">14</div><div class="pc" style="top:214.4px">%</div><div class="xl" style="left:70.6px">1990</div><div class="xl" style="left:317.5px">1995</div><div class="xl" style="left:564.5px">2000</div><div class="xl" style="left:811.5px">2005</div><div class="xl" style="left:1058.5px">2010</div><div class="xl" style="left:1305.4px">2015</div><div class="xl" style="left:1552.4px">2020</div>
<div class="lab" id="l1" style="left:1120.3px;width:600px;top:331.4px;color:#e83e64;">Recent
College Grads
<span class="lt">[22-27]</span></div>
<div class="lab" id="l2" style="left:100.5px;width:600px;top:846.3px;color:#808080;">All Workers
<span class="lt">[16-65]</span></div>
<div class="lab" id="l3" style="left:1138.3px;width:600px;top:1544.4px;color:#1877f2;">All College
Grads <span class="lt">[22-65]</span></div>
<div id="src" class="abs mono" style="left:1112px;top:1877px;font-size:33.3px;color:#a3a3a3;">Source: Federal Reserve Bank of New York</div>
<svg id="logo" width="280" height="100" viewBox="0 1830 280 100" style="left:0;top:1830px;"><g font-family="Liberation Sans, sans-serif" font-weight="bold" font-size="100" fill="#000" stroke="#000" stroke-miterlimit="2" stroke-width="9.0"><text transform="translate(8.75,1909.24) scale(0.8367,0.9329)">C</text><text transform="translate(70.11,1907.99) scale(0.6971,0.7286)">H</text><text transform="translate(122.60,1908.36) scale(0.5750,0.6346)">A</text><text transform="translate(166.69,1908.72) scale(0.5069,0.5442)">R</text><text transform="translate(203.32,1909.13) scale(0.4397,0.4423)">T</text><text transform="translate(229.63,1909.35) scale(0.3847,0.3883)">R</text></g></svg>
</body></html>
